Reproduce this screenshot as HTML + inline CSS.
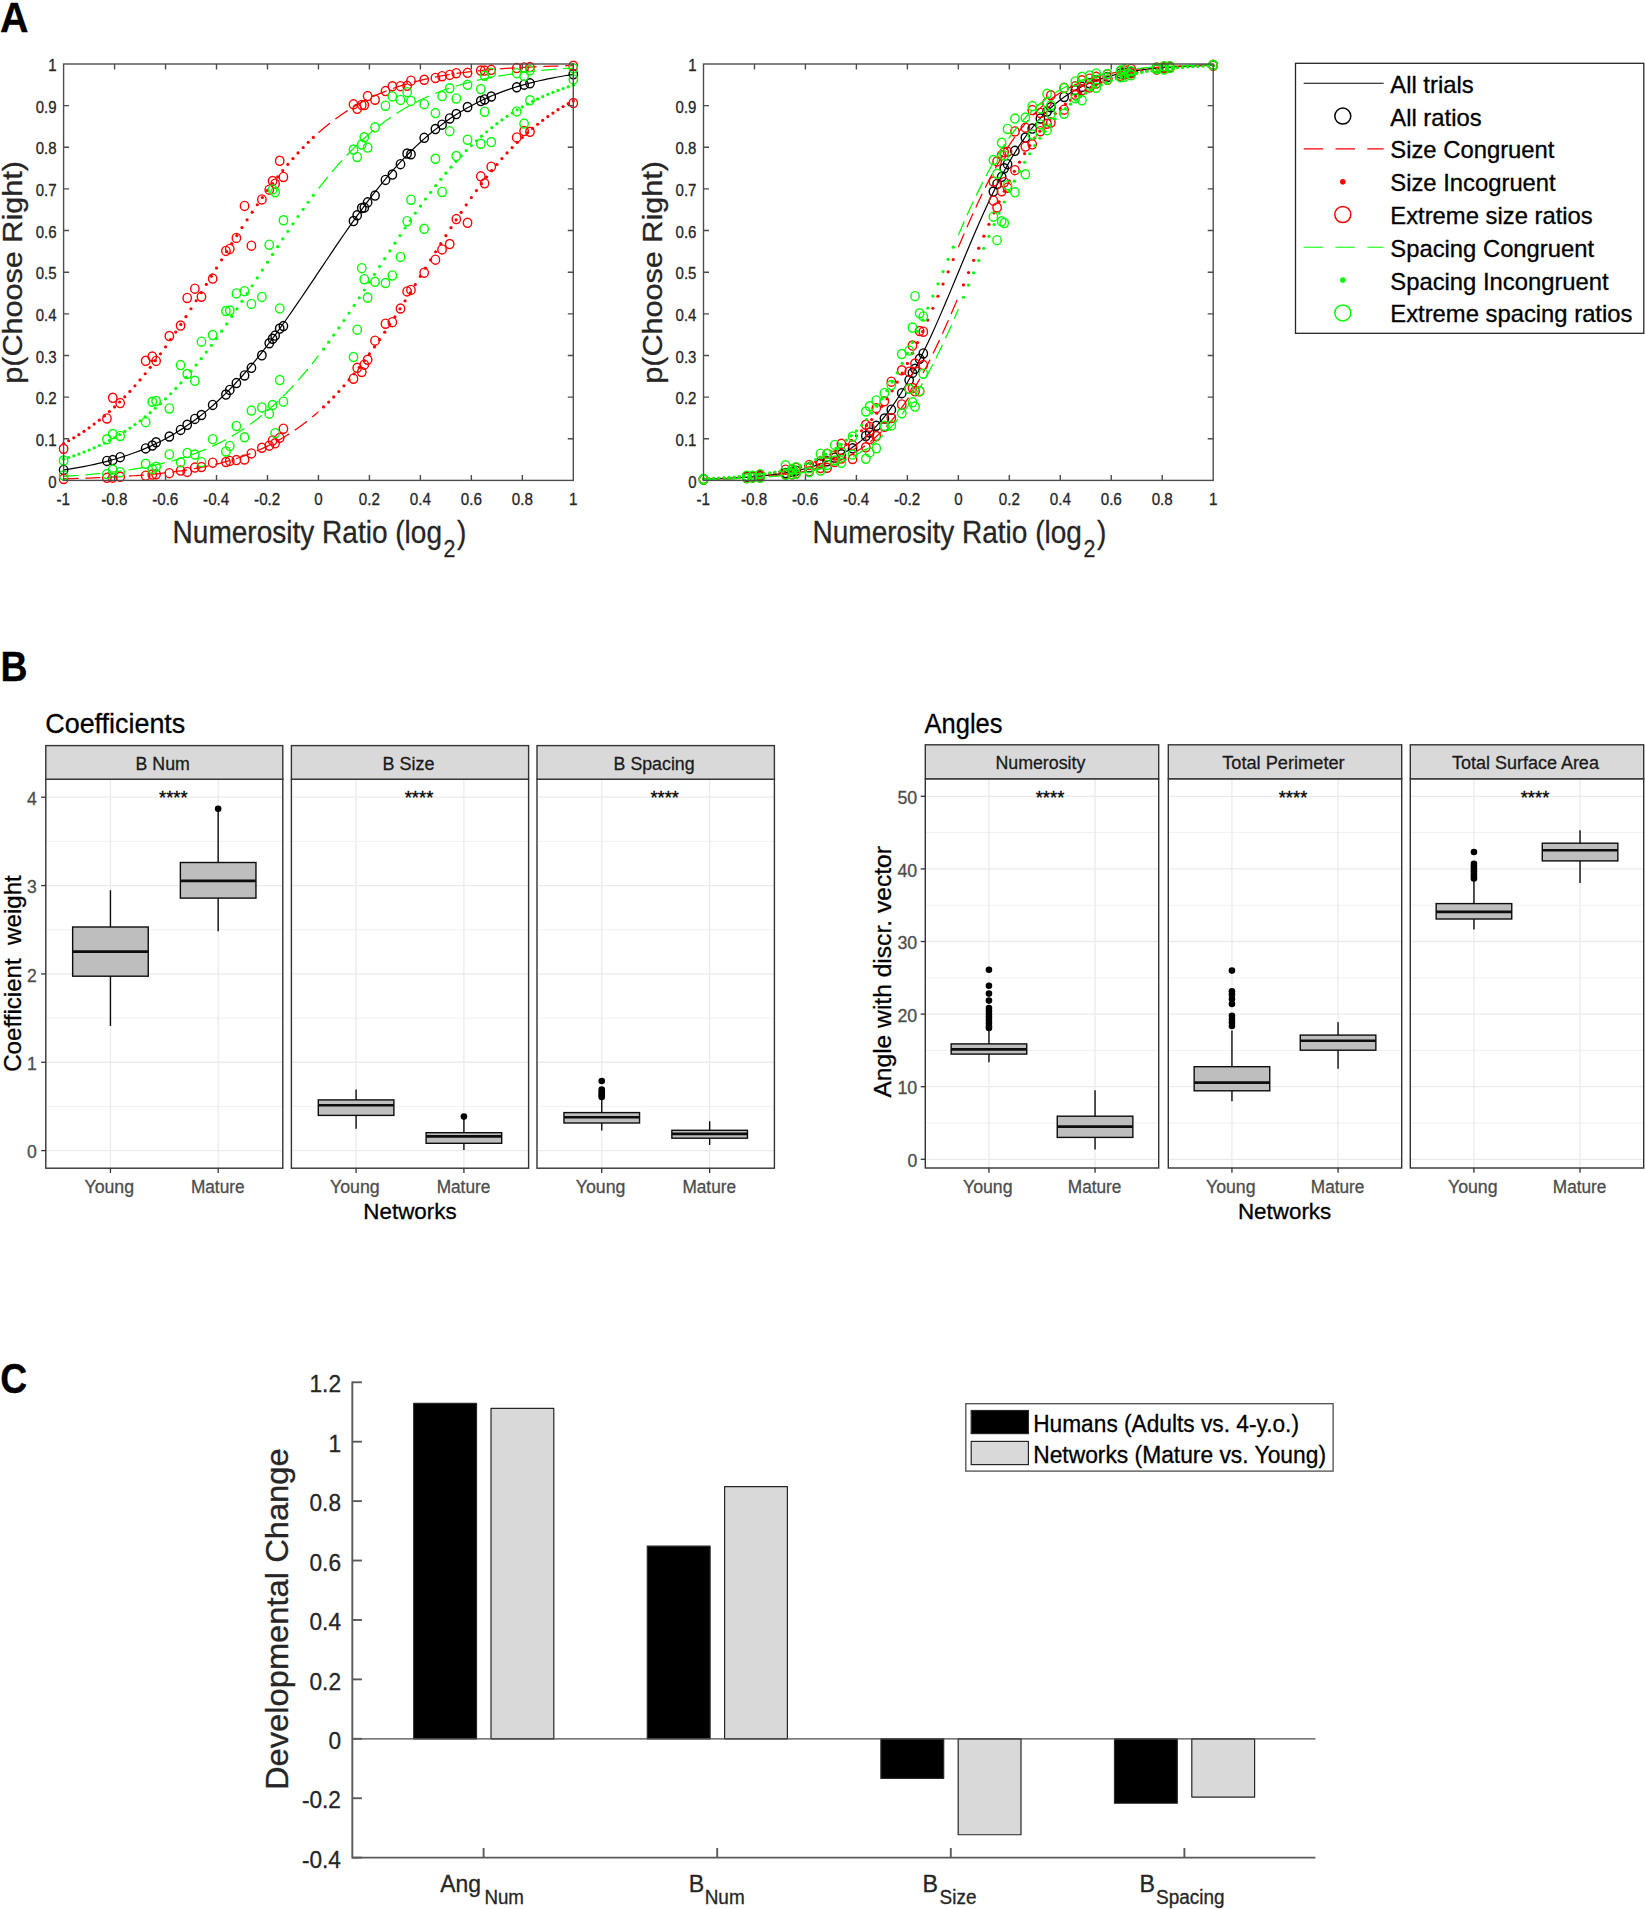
<!DOCTYPE html>
<html><head><meta charset="utf-8"><title>Figure</title>
<style>html,body{margin:0;padding:0;background:#fff}svg{display:block}text{font-family:"Liberation Sans",Arial,sans-serif;stroke-width:.3px}</style>
</head><body>
<svg width="1645" height="1909" viewBox="0 0 1645 1909">
<rect width="1645" height="1909" fill="#fff"/>
<text x="0" y="31.6" font-size="42.02" fill="#000" stroke="#000" textLength="28.5" lengthAdjust="spacingAndGlyphs" font-weight="bold">A</text>
<path d="M63.6,469.95 L67.85,469.31 L72.09,468.64 L76.34,467.92 L80.59,467.16 L84.84,466.35 L89.08,465.5 L93.33,464.6 L97.58,463.65 L101.83,462.64 L106.07,461.57 L110.32,460.44 L114.57,459.25 L118.82,457.99 L123.07,456.66 L127.31,455.26 L131.56,453.78 L135.81,452.22 L140.06,450.58 L144.3,448.84 L148.55,447.02 L152.8,445.09 L157.04,443.07 L161.29,440.95 L165.54,438.71 L169.79,436.37 L174.03,433.91 L178.28,431.33 L182.53,428.63 L186.78,425.8 L191.02,422.84 L195.27,419.74 L199.52,416.51 L203.77,413.15 L208.01,409.63 L212.26,405.98 L216.51,402.18 L220.76,398.23 L225,394.13 L229.25,389.88 L233.5,385.49 L237.75,380.94 L241.99,376.25 L246.24,371.42 L250.49,366.44 L254.74,361.32 L258.99,356.07 L263.23,350.68 L267.48,345.17 L271.73,339.54 L275.97,333.8 L280.22,327.96 L284.47,322.02 L288.72,315.99 L292.96,309.88 L297.21,303.71 L301.46,297.48 L305.71,291.2 L309.95,284.88 L314.2,278.55 L318.45,272.2 L322.7,265.85 L326.94,259.52 L331.19,253.2 L335.44,246.92 L339.69,240.69 L343.94,234.52 L348.18,228.41 L352.43,222.38 L356.68,216.44 L360.93,210.6 L365.17,204.86 L369.42,199.23 L373.67,193.72 L377.92,188.33 L382.16,183.08 L386.41,177.96 L390.66,172.98 L394.9,168.15 L399.15,163.46 L403.4,158.91 L407.65,154.52 L411.89,150.27 L416.14,146.17 L420.39,142.22 L424.64,138.42 L428.88,134.77 L433.13,131.25 L437.38,127.89 L441.63,124.66 L445.88,121.56 L450.12,118.6 L454.37,115.77 L458.62,113.07 L462.86,110.49 L467.11,108.03 L471.36,105.69 L475.61,103.45 L479.85,101.33 L484.1,99.31 L488.35,97.38 L492.6,95.56 L496.84,93.82 L501.09,92.18 L505.34,90.62 L509.59,89.14 L513.83,87.74 L518.08,86.41 L522.33,85.15 L526.58,83.96 L530.82,82.83 L535.07,81.76 L539.32,80.75 L543.57,79.8 L547.81,78.9 L552.06,78.05 L556.31,77.24 L560.56,76.48 L564.8,75.76 L569.05,75.09 L573.3,74.45" stroke="#000" stroke-width="1.2" fill="none"/>
<g fill="none" stroke="#000" stroke-width="1.4">
<ellipse cx="63.6" cy="469.93" rx="4.2" ry="4.55"/>
<ellipse cx="106.92" cy="460.89" rx="4.2" ry="4.55"/>
<ellipse cx="112.79" cy="460.12" rx="4.2" ry="4.55"/>
<ellipse cx="120.18" cy="457.14" rx="4.2" ry="4.55"/>
<ellipse cx="145.66" cy="448.42" rx="4.2" ry="4.55"/>
<ellipse cx="152.29" cy="445.5" rx="4.2" ry="4.55"/>
<ellipse cx="156.11" cy="442.23" rx="4.2" ry="4.55"/>
<ellipse cx="169.36" cy="436.49" rx="4.2" ry="4.55"/>
<ellipse cx="180.58" cy="429.92" rx="4.2" ry="4.55"/>
<ellipse cx="187.2" cy="424.81" rx="4.2" ry="4.55"/>
<ellipse cx="194.85" cy="418.89" rx="4.2" ry="4.55"/>
<ellipse cx="201.47" cy="415.02" rx="4.2" ry="4.55"/>
<ellipse cx="212.69" cy="404.88" rx="4.2" ry="4.55"/>
<ellipse cx="225.94" cy="394.54" rx="4.2" ry="4.55"/>
<ellipse cx="229.76" cy="389.88" rx="4.2" ry="4.55"/>
<ellipse cx="236.39" cy="383.07" rx="4.2" ry="4.55"/>
<ellipse cx="244.54" cy="375.47" rx="4.2" ry="4.55"/>
<ellipse cx="251.42" cy="367.82" rx="4.2" ry="4.55"/>
<ellipse cx="261.87" cy="355.28" rx="4.2" ry="4.55"/>
<ellipse cx="269.26" cy="343.26" rx="4.2" ry="4.55"/>
<ellipse cx="272.58" cy="338.73" rx="4.2" ry="4.55"/>
<ellipse cx="275.13" cy="335.57" rx="4.2" ry="4.55"/>
<ellipse cx="279.71" cy="328.53" rx="4.2" ry="4.55"/>
<ellipse cx="283.41" cy="326.11" rx="4.2" ry="4.55"/>
<ellipse cx="353.49" cy="221.05" rx="4.2" ry="4.55"/>
<ellipse cx="357.19" cy="215.28" rx="4.2" ry="4.55"/>
<ellipse cx="361.77" cy="208.02" rx="4.2" ry="4.55"/>
<ellipse cx="364.32" cy="207.58" rx="4.2" ry="4.55"/>
<ellipse cx="367.64" cy="202.32" rx="4.2" ry="4.55"/>
<ellipse cx="375.03" cy="195.58" rx="4.2" ry="4.55"/>
<ellipse cx="385.48" cy="179.92" rx="4.2" ry="4.55"/>
<ellipse cx="392.36" cy="174.56" rx="4.2" ry="4.55"/>
<ellipse cx="400.51" cy="164.13" rx="4.2" ry="4.55"/>
<ellipse cx="407.14" cy="153.48" rx="4.2" ry="4.55"/>
<ellipse cx="410.96" cy="154.27" rx="4.2" ry="4.55"/>
<ellipse cx="424.21" cy="137.82" rx="4.2" ry="4.55"/>
<ellipse cx="435.43" cy="129.06" rx="4.2" ry="4.55"/>
<ellipse cx="442.05" cy="124.66" rx="4.2" ry="4.55"/>
<ellipse cx="449.7" cy="118.46" rx="4.2" ry="4.55"/>
<ellipse cx="456.32" cy="114.05" rx="4.2" ry="4.55"/>
<ellipse cx="467.54" cy="106.98" rx="4.2" ry="4.55"/>
<ellipse cx="480.79" cy="101.03" rx="4.2" ry="4.55"/>
<ellipse cx="484.61" cy="99.45" rx="4.2" ry="4.55"/>
<ellipse cx="491.24" cy="96.49" rx="4.2" ry="4.55"/>
<ellipse cx="516.72" cy="87.25" rx="4.2" ry="4.55"/>
<ellipse cx="524.11" cy="84.66" rx="4.2" ry="4.55"/>
<ellipse cx="529.98" cy="83.34" rx="4.2" ry="4.55"/>
<ellipse cx="573.3" cy="74.23" rx="4.2" ry="4.55"/>
</g>
<path d="M63.6,478.82 L66.79,478.74 L69.97,478.66 L73.16,478.57 L76.34,478.48 L79.53,478.38 L82.71,478.28 L85.9,478.17 L89.08,478.06 L92.27,477.94 L95.46,477.82 L98.64,477.69 L101.83,477.55 L105.01,477.41 L108.2,477.26 L111.38,477.1 L114.57,476.93 L117.76,476.76 L120.94,476.58 L124.13,476.38 L127.31,476.18 L130.5,475.97 L133.68,475.75 L136.87,475.52 L140.06,475.27 L143.24,475.02 L146.43,474.75 L149.61,474.47 L152.8,474.17 L155.98,473.86 L159.17,473.54 L162.35,473.19 L165.54,472.84 L168.73,472.46 L171.91,472.07 L175.1,471.65 L178.28,471.22 L181.47,470.77 L184.65,470.29 L187.84,469.79 L191.02,469.27 L194.21,468.72 L197.4,468.15 L200.58,467.55 L203.77,466.92 L206.95,466.26 L210.14,465.57 L213.32,464.85 L216.51,464.09 L219.7,463.3 L222.88,462.47 L226.07,461.61 L229.25,460.7 L232.44,459.75 L235.62,458.76 L238.81,457.72 L241.99,456.64 L245.18,455.51 L248.37,454.33 L251.55,453.1 L254.74,451.81 L257.92,450.47 L261.11,449.07 L264.29,447.61 L267.48,446.08 L270.67,444.5 L273.85,442.84 L277.04,441.12 L280.22,439.33 L283.41,437.46 L286.59,435.53 L289.78,433.51 L292.96,431.42 L296.15,429.24 L299.34,426.98 L302.52,424.64 L305.71,422.21 L308.89,419.7 L312.08,417.09 L315.26,414.4 L318.45,411.61" stroke="#ff0000" stroke-width="1.25" stroke-dasharray="15 6.8" fill="none"/>
<path d="M318.45,132.79 L321.64,130 L324.82,127.31 L328.01,124.7 L331.19,122.19 L334.38,119.76 L337.56,117.42 L340.75,115.16 L343.94,112.98 L347.12,110.89 L350.31,108.87 L353.49,106.94 L356.68,105.07 L359.86,103.28 L363.05,101.56 L366.23,99.9 L369.42,98.32 L372.61,96.79 L375.79,95.33 L378.98,93.93 L382.16,92.59 L385.35,91.3 L388.53,90.07 L391.72,88.89 L394.9,87.76 L398.09,86.68 L401.28,85.64 L404.46,84.65 L407.65,83.7 L410.83,82.79 L414.02,81.93 L417.2,81.1 L420.39,80.31 L423.58,79.55 L426.76,78.83 L429.95,78.14 L433.13,77.48 L436.32,76.85 L439.5,76.25 L442.69,75.68 L445.88,75.13 L449.06,74.61 L452.25,74.11 L455.43,73.63 L458.62,73.18 L461.8,72.75 L464.99,72.33 L468.17,71.94 L471.36,71.56 L474.55,71.21 L477.73,70.86 L480.92,70.54 L484.1,70.23 L487.29,69.93 L490.47,69.65 L493.66,69.38 L496.84,69.13 L500.03,68.88 L503.22,68.65 L506.4,68.43 L509.59,68.22 L512.77,68.02 L515.96,67.82 L519.14,67.64 L522.33,67.47 L525.52,67.3 L528.7,67.14 L531.89,66.99 L535.07,66.85 L538.26,66.71 L541.44,66.58 L544.63,66.46 L547.81,66.34 L551,66.23 L554.19,66.12 L557.37,66.02 L560.56,65.92 L563.74,65.83 L566.93,65.74 L570.11,65.66 L573.3,65.58" stroke="#ff0000" stroke-width="1.25" stroke-dasharray="15 6.8" fill="none"/>
<g fill="#ff0000">
<circle cx="63.6" cy="443.48" r="1.6"/>
<circle cx="323.55" cy="406.95" r="1.6"/>
<circle cx="68.7" cy="440.73" r="1.6"/>
<circle cx="328.64" cy="402.05" r="1.6"/>
<circle cx="73.79" cy="437.81" r="1.6"/>
<circle cx="333.74" cy="396.9" r="1.6"/>
<circle cx="78.89" cy="434.69" r="1.6"/>
<circle cx="338.84" cy="391.5" r="1.6"/>
<circle cx="83.99" cy="431.37" r="1.6"/>
<circle cx="343.94" cy="385.85" r="1.6"/>
<circle cx="89.08" cy="427.85" r="1.6"/>
<circle cx="349.03" cy="379.96" r="1.6"/>
<circle cx="94.18" cy="424.12" r="1.6"/>
<circle cx="354.13" cy="373.81" r="1.6"/>
<circle cx="99.28" cy="420.16" r="1.6"/>
<circle cx="359.23" cy="367.43" r="1.6"/>
<circle cx="104.38" cy="415.97" r="1.6"/>
<circle cx="364.32" cy="360.81" r="1.6"/>
<circle cx="109.47" cy="411.55" r="1.6"/>
<circle cx="369.42" cy="353.96" r="1.6"/>
<circle cx="114.57" cy="406.89" r="1.6"/>
<circle cx="374.52" cy="346.9" r="1.6"/>
<circle cx="119.67" cy="401.99" r="1.6"/>
<circle cx="379.61" cy="339.64" r="1.6"/>
<circle cx="124.76" cy="396.83" r="1.6"/>
<circle cx="384.71" cy="332.18" r="1.6"/>
<circle cx="129.86" cy="391.43" r="1.6"/>
<circle cx="389.81" cy="324.56" r="1.6"/>
<circle cx="134.96" cy="385.78" r="1.6"/>
<circle cx="394.9" cy="316.78" r="1.6"/>
<circle cx="140.06" cy="379.88" r="1.6"/>
<circle cx="400" cy="308.87" r="1.6"/>
<circle cx="145.15" cy="373.73" r="1.6"/>
<circle cx="405.1" cy="300.85" r="1.6"/>
<circle cx="150.25" cy="367.35" r="1.6"/>
<circle cx="410.2" cy="292.74" r="1.6"/>
<circle cx="155.35" cy="360.72" r="1.6"/>
<circle cx="415.29" cy="284.57" r="1.6"/>
<circle cx="160.44" cy="353.87" r="1.6"/>
<circle cx="420.39" cy="276.36" r="1.6"/>
<circle cx="165.54" cy="346.81" r="1.6"/>
<circle cx="425.49" cy="268.14" r="1.6"/>
<circle cx="170.64" cy="339.54" r="1.6"/>
<circle cx="430.58" cy="259.93" r="1.6"/>
<circle cx="175.73" cy="332.09" r="1.6"/>
<circle cx="435.68" cy="251.76" r="1.6"/>
<circle cx="180.83" cy="324.46" r="1.6"/>
<circle cx="440.78" cy="243.65" r="1.6"/>
<circle cx="185.93" cy="316.68" r="1.6"/>
<circle cx="445.88" cy="235.63" r="1.6"/>
<circle cx="191.02" cy="308.77" r="1.6"/>
<circle cx="450.97" cy="227.72" r="1.6"/>
<circle cx="196.12" cy="300.75" r="1.6"/>
<circle cx="456.07" cy="219.94" r="1.6"/>
<circle cx="201.22" cy="292.64" r="1.6"/>
<circle cx="461.17" cy="212.31" r="1.6"/>
<circle cx="206.32" cy="284.47" r="1.6"/>
<circle cx="466.26" cy="204.86" r="1.6"/>
<circle cx="211.41" cy="276.26" r="1.6"/>
<circle cx="471.36" cy="197.59" r="1.6"/>
<circle cx="216.51" cy="268.04" r="1.6"/>
<circle cx="476.46" cy="190.53" r="1.6"/>
<circle cx="221.61" cy="259.83" r="1.6"/>
<circle cx="481.55" cy="183.68" r="1.6"/>
<circle cx="226.7" cy="251.66" r="1.6"/>
<circle cx="486.65" cy="177.05" r="1.6"/>
<circle cx="231.8" cy="243.55" r="1.6"/>
<circle cx="491.75" cy="170.67" r="1.6"/>
<circle cx="236.9" cy="235.53" r="1.6"/>
<circle cx="496.85" cy="164.52" r="1.6"/>
<circle cx="241.99" cy="227.62" r="1.6"/>
<circle cx="501.94" cy="158.62" r="1.6"/>
<circle cx="247.09" cy="219.84" r="1.6"/>
<circle cx="507.04" cy="152.97" r="1.6"/>
<circle cx="252.19" cy="212.22" r="1.6"/>
<circle cx="512.14" cy="147.57" r="1.6"/>
<circle cx="257.29" cy="204.76" r="1.6"/>
<circle cx="517.23" cy="142.41" r="1.6"/>
<circle cx="262.38" cy="197.5" r="1.6"/>
<circle cx="522.33" cy="137.51" r="1.6"/>
<circle cx="267.48" cy="190.44" r="1.6"/>
<circle cx="527.43" cy="132.85" r="1.6"/>
<circle cx="272.58" cy="183.59" r="1.6"/>
<circle cx="532.52" cy="128.43" r="1.6"/>
<circle cx="277.67" cy="176.97" r="1.6"/>
<circle cx="537.62" cy="124.24" r="1.6"/>
<circle cx="282.77" cy="170.59" r="1.6"/>
<circle cx="542.72" cy="120.28" r="1.6"/>
<circle cx="287.87" cy="164.44" r="1.6"/>
<circle cx="547.81" cy="116.55" r="1.6"/>
<circle cx="292.96" cy="158.55" r="1.6"/>
<circle cx="552.91" cy="113.03" r="1.6"/>
<circle cx="298.06" cy="152.9" r="1.6"/>
<circle cx="558.01" cy="109.71" r="1.6"/>
<circle cx="303.16" cy="147.5" r="1.6"/>
<circle cx="563.11" cy="106.59" r="1.6"/>
<circle cx="308.26" cy="142.35" r="1.6"/>
<circle cx="568.2" cy="103.67" r="1.6"/>
<circle cx="313.35" cy="137.45" r="1.6"/>
<circle cx="573.3" cy="100.92" r="1.6"/>
</g>
<g fill="none" stroke="#ff0000" stroke-width="1.4">
<ellipse cx="63.6" cy="448.76" rx="4.2" ry="4.55"/>
<ellipse cx="63.6" cy="478.97" rx="4.2" ry="4.55"/>
<ellipse cx="106.92" cy="418.45" rx="4.2" ry="4.55"/>
<ellipse cx="106.92" cy="477.84" rx="4.2" ry="4.55"/>
<ellipse cx="112.79" cy="397.79" rx="4.2" ry="4.55"/>
<ellipse cx="112.79" cy="477.68" rx="4.2" ry="4.55"/>
<ellipse cx="120.18" cy="403.1" rx="4.2" ry="4.55"/>
<ellipse cx="120.18" cy="476.79" rx="4.2" ry="4.55"/>
<ellipse cx="145.66" cy="360.81" rx="4.2" ry="4.55"/>
<ellipse cx="145.66" cy="475.72" rx="4.2" ry="4.55"/>
<ellipse cx="152.29" cy="356.5" rx="4.2" ry="4.55"/>
<ellipse cx="152.29" cy="474.61" rx="4.2" ry="4.55"/>
<ellipse cx="156.11" cy="360.9" rx="4.2" ry="4.55"/>
<ellipse cx="156.11" cy="474.23" rx="4.2" ry="4.55"/>
<ellipse cx="169.36" cy="335.99" rx="4.2" ry="4.55"/>
<ellipse cx="169.36" cy="473.15" rx="4.2" ry="4.55"/>
<ellipse cx="180.58" cy="325.54" rx="4.2" ry="4.55"/>
<ellipse cx="180.58" cy="470.6" rx="4.2" ry="4.55"/>
<ellipse cx="187.2" cy="297.95" rx="4.2" ry="4.55"/>
<ellipse cx="187.2" cy="471.9" rx="4.2" ry="4.55"/>
<ellipse cx="194.85" cy="288.66" rx="4.2" ry="4.55"/>
<ellipse cx="194.85" cy="467.59" rx="4.2" ry="4.55"/>
<ellipse cx="201.47" cy="296.71" rx="4.2" ry="4.55"/>
<ellipse cx="201.47" cy="467.02" rx="4.2" ry="4.55"/>
<ellipse cx="212.69" cy="278.57" rx="4.2" ry="4.55"/>
<ellipse cx="212.69" cy="462.64" rx="4.2" ry="4.55"/>
<ellipse cx="225.94" cy="250.93" rx="4.2" ry="4.55"/>
<ellipse cx="225.94" cy="461.99" rx="4.2" ry="4.55"/>
<ellipse cx="229.76" cy="248.89" rx="4.2" ry="4.55"/>
<ellipse cx="229.76" cy="460.89" rx="4.2" ry="4.55"/>
<ellipse cx="236.39" cy="237.93" rx="4.2" ry="4.55"/>
<ellipse cx="236.39" cy="460.1" rx="4.2" ry="4.55"/>
<ellipse cx="244.54" cy="205.91" rx="4.2" ry="4.55"/>
<ellipse cx="244.54" cy="459.44" rx="4.2" ry="4.55"/>
<ellipse cx="251.42" cy="245.63" rx="4.2" ry="4.55"/>
<ellipse cx="251.42" cy="453.43" rx="4.2" ry="4.55"/>
<ellipse cx="261.87" cy="199.42" rx="4.2" ry="4.55"/>
<ellipse cx="261.87" cy="447.73" rx="4.2" ry="4.55"/>
<ellipse cx="269.26" cy="189.63" rx="4.2" ry="4.55"/>
<ellipse cx="269.26" cy="445.63" rx="4.2" ry="4.55"/>
<ellipse cx="272.58" cy="181.06" rx="4.2" ry="4.55"/>
<ellipse cx="272.58" cy="440.47" rx="4.2" ry="4.55"/>
<ellipse cx="275.13" cy="183.66" rx="4.2" ry="4.55"/>
<ellipse cx="275.13" cy="443.31" rx="4.2" ry="4.55"/>
<ellipse cx="279.71" cy="160.81" rx="4.2" ry="4.55"/>
<ellipse cx="279.71" cy="437.83" rx="4.2" ry="4.55"/>
<ellipse cx="283.41" cy="176.96" rx="4.2" ry="4.55"/>
<ellipse cx="283.41" cy="428.72" rx="4.2" ry="4.55"/>
<ellipse cx="353.49" cy="104.32" rx="4.2" ry="4.55"/>
<ellipse cx="353.49" cy="378.72" rx="4.2" ry="4.55"/>
<ellipse cx="357.19" cy="108.84" rx="4.2" ry="4.55"/>
<ellipse cx="357.19" cy="367.82" rx="4.2" ry="4.55"/>
<ellipse cx="361.77" cy="104.92" rx="4.2" ry="4.55"/>
<ellipse cx="361.77" cy="371.95" rx="4.2" ry="4.55"/>
<ellipse cx="364.32" cy="105" rx="4.2" ry="4.55"/>
<ellipse cx="364.32" cy="364.65" rx="4.2" ry="4.55"/>
<ellipse cx="367.64" cy="96.12" rx="4.2" ry="4.55"/>
<ellipse cx="367.64" cy="359.75" rx="4.2" ry="4.55"/>
<ellipse cx="375.03" cy="99.71" rx="4.2" ry="4.55"/>
<ellipse cx="375.03" cy="340.65" rx="4.2" ry="4.55"/>
<ellipse cx="385.48" cy="91.1" rx="4.2" ry="4.55"/>
<ellipse cx="385.48" cy="323.7" rx="4.2" ry="4.55"/>
<ellipse cx="392.36" cy="86.27" rx="4.2" ry="4.55"/>
<ellipse cx="392.36" cy="322.18" rx="4.2" ry="4.55"/>
<ellipse cx="400.51" cy="86.16" rx="4.2" ry="4.55"/>
<ellipse cx="400.51" cy="308.49" rx="4.2" ry="4.55"/>
<ellipse cx="407.14" cy="85.87" rx="4.2" ry="4.55"/>
<ellipse cx="407.14" cy="291.42" rx="4.2" ry="4.55"/>
<ellipse cx="410.96" cy="80.67" rx="4.2" ry="4.55"/>
<ellipse cx="410.96" cy="289.91" rx="4.2" ry="4.55"/>
<ellipse cx="424.21" cy="79.73" rx="4.2" ry="4.55"/>
<ellipse cx="424.21" cy="272.63" rx="4.2" ry="4.55"/>
<ellipse cx="435.43" cy="77.94" rx="4.2" ry="4.55"/>
<ellipse cx="435.43" cy="259.65" rx="4.2" ry="4.55"/>
<ellipse cx="442.05" cy="76.21" rx="4.2" ry="4.55"/>
<ellipse cx="442.05" cy="249.39" rx="4.2" ry="4.55"/>
<ellipse cx="449.7" cy="74.92" rx="4.2" ry="4.55"/>
<ellipse cx="449.7" cy="244.03" rx="4.2" ry="4.55"/>
<ellipse cx="456.32" cy="73.21" rx="4.2" ry="4.55"/>
<ellipse cx="456.32" cy="219.12" rx="4.2" ry="4.55"/>
<ellipse cx="467.54" cy="72.87" rx="4.2" ry="4.55"/>
<ellipse cx="467.54" cy="222.79" rx="4.2" ry="4.55"/>
<ellipse cx="480.79" cy="70.56" rx="4.2" ry="4.55"/>
<ellipse cx="480.79" cy="176.36" rx="4.2" ry="4.55"/>
<ellipse cx="484.61" cy="70.59" rx="4.2" ry="4.55"/>
<ellipse cx="484.61" cy="183.34" rx="4.2" ry="4.55"/>
<ellipse cx="491.24" cy="69.87" rx="4.2" ry="4.55"/>
<ellipse cx="491.24" cy="166.68" rx="4.2" ry="4.55"/>
<ellipse cx="516.72" cy="68.1" rx="4.2" ry="4.55"/>
<ellipse cx="516.72" cy="137.4" rx="4.2" ry="4.55"/>
<ellipse cx="524.11" cy="67.47" rx="4.2" ry="4.55"/>
<ellipse cx="524.11" cy="131.04" rx="4.2" ry="4.55"/>
<ellipse cx="529.98" cy="67.07" rx="4.2" ry="4.55"/>
<ellipse cx="529.98" cy="131.78" rx="4.2" ry="4.55"/>
<ellipse cx="573.3" cy="65.8" rx="4.2" ry="4.55"/>
<ellipse cx="573.3" cy="103.06" rx="4.2" ry="4.55"/>
</g>
<path d="M63.6,476.34 L66.79,476.14 L69.97,475.94 L73.16,475.73 L76.34,475.5 L79.53,475.27 L82.71,475.03 L85.9,474.77 L89.08,474.5 L92.27,474.22 L95.46,473.93 L98.64,473.62 L101.83,473.3 L105.01,472.96 L108.2,472.61 L111.38,472.24 L114.57,471.86 L117.76,471.46 L120.94,471.03 L124.13,470.59 L127.31,470.13 L130.5,469.65 L133.68,469.14 L136.87,468.62 L140.06,468.06 L143.24,467.49 L146.43,466.88 L149.61,466.25 L152.8,465.6 L155.98,464.91 L159.17,464.19 L162.35,463.44 L165.54,462.66 L168.73,461.84 L171.91,460.98 L175.1,460.09 L178.28,459.16 L181.47,458.19 L184.65,457.18 L187.84,456.12 L191.02,455.02 L194.21,453.88 L197.4,452.68 L200.58,451.44 L203.77,450.14 L206.95,448.79 L210.14,447.39 L213.32,445.93 L216.51,444.41 L219.7,442.83 L222.88,441.19 L226.07,439.48 L229.25,437.71 L232.44,435.87 L235.62,433.96 L238.81,431.98 L241.99,429.93 L245.18,427.8 L248.37,425.6 L251.55,423.31 L254.74,420.95 L257.92,418.51 L261.11,415.99 L264.29,413.38 L267.48,410.68 L270.67,407.91 L273.85,405.04 L277.04,402.09 L280.22,399.05 L283.41,395.92 L286.59,392.7 L289.78,389.39 L292.96,386 L296.15,382.51 L299.34,378.94 L302.52,375.28 L305.71,371.54 L308.89,367.71 L312.08,363.79 L315.26,359.79 L318.45,355.72" stroke="#00ff00" stroke-width="1.25" stroke-dasharray="15 6.8" fill="none"/>
<path d="M318.45,188.68 L321.64,184.61 L324.82,180.61 L328.01,176.69 L331.19,172.86 L334.38,169.12 L337.56,165.46 L340.75,161.89 L343.94,158.4 L347.12,155.01 L350.31,151.7 L353.49,148.48 L356.68,145.35 L359.86,142.31 L363.05,139.36 L366.23,136.49 L369.42,133.72 L372.61,131.02 L375.79,128.41 L378.98,125.89 L382.16,123.45 L385.35,121.09 L388.53,118.8 L391.72,116.6 L394.9,114.47 L398.09,112.42 L401.28,110.44 L404.46,108.53 L407.65,106.69 L410.83,104.92 L414.02,103.21 L417.2,101.57 L420.39,99.99 L423.58,98.47 L426.76,97.01 L429.95,95.61 L433.13,94.26 L436.32,92.96 L439.5,91.72 L442.69,90.52 L445.88,89.38 L449.06,88.28 L452.25,87.22 L455.43,86.21 L458.62,85.24 L461.8,84.31 L464.99,83.42 L468.17,82.56 L471.36,81.74 L474.55,80.96 L477.73,80.21 L480.92,79.49 L484.1,78.8 L487.29,78.15 L490.47,77.52 L493.66,76.91 L496.84,76.34 L500.03,75.78 L503.22,75.26 L506.4,74.75 L509.59,74.27 L512.77,73.81 L515.96,73.37 L519.14,72.94 L522.33,72.54 L525.52,72.16 L528.7,71.79 L531.89,71.44 L535.07,71.1 L538.26,70.78 L541.44,70.47 L544.63,70.18 L547.81,69.9 L551,69.63 L554.19,69.37 L557.37,69.13 L560.56,68.9 L563.74,68.67 L566.93,68.46 L570.11,68.26 L573.3,68.06" stroke="#00ff00" stroke-width="1.25" stroke-dasharray="15 6.8" fill="none"/>
<g fill="#00ff00">
<circle cx="63.6" cy="459.09" r="1.6"/>
<circle cx="323.55" cy="349.03" r="1.6"/>
<circle cx="68.7" cy="457.51" r="1.6"/>
<circle cx="328.64" cy="342.16" r="1.6"/>
<circle cx="73.79" cy="455.83" r="1.6"/>
<circle cx="333.74" cy="335.11" r="1.6"/>
<circle cx="78.89" cy="454.03" r="1.6"/>
<circle cx="338.84" cy="327.9" r="1.6"/>
<circle cx="83.99" cy="452.1" r="1.6"/>
<circle cx="343.94" cy="320.54" r="1.6"/>
<circle cx="89.08" cy="450.05" r="1.6"/>
<circle cx="349.03" cy="313.05" r="1.6"/>
<circle cx="94.18" cy="447.85" r="1.6"/>
<circle cx="354.13" cy="305.45" r="1.6"/>
<circle cx="99.28" cy="445.52" r="1.6"/>
<circle cx="359.23" cy="297.76" r="1.6"/>
<circle cx="104.38" cy="443.03" r="1.6"/>
<circle cx="364.32" cy="290" r="1.6"/>
<circle cx="109.47" cy="440.39" r="1.6"/>
<circle cx="369.42" cy="282.19" r="1.6"/>
<circle cx="114.57" cy="437.58" r="1.6"/>
<circle cx="374.52" cy="274.34" r="1.6"/>
<circle cx="119.67" cy="434.59" r="1.6"/>
<circle cx="379.61" cy="266.5" r="1.6"/>
<circle cx="124.76" cy="431.42" r="1.6"/>
<circle cx="384.71" cy="258.67" r="1.6"/>
<circle cx="129.86" cy="428.07" r="1.6"/>
<circle cx="389.81" cy="250.87" r="1.6"/>
<circle cx="134.96" cy="424.52" r="1.6"/>
<circle cx="394.9" cy="243.14" r="1.6"/>
<circle cx="140.06" cy="420.77" r="1.6"/>
<circle cx="400" cy="235.49" r="1.6"/>
<circle cx="145.15" cy="416.82" r="1.6"/>
<circle cx="405.1" cy="227.94" r="1.6"/>
<circle cx="150.25" cy="412.65" r="1.6"/>
<circle cx="410.2" cy="220.5" r="1.6"/>
<circle cx="155.35" cy="408.26" r="1.6"/>
<circle cx="415.29" cy="213.21" r="1.6"/>
<circle cx="160.44" cy="403.65" r="1.6"/>
<circle cx="420.39" cy="206.07" r="1.6"/>
<circle cx="165.54" cy="398.82" r="1.6"/>
<circle cx="425.49" cy="199.1" r="1.6"/>
<circle cx="170.64" cy="393.76" r="1.6"/>
<circle cx="430.58" cy="192.31" r="1.6"/>
<circle cx="175.73" cy="388.47" r="1.6"/>
<circle cx="435.68" cy="185.72" r="1.6"/>
<circle cx="180.83" cy="382.96" r="1.6"/>
<circle cx="440.78" cy="179.33" r="1.6"/>
<circle cx="185.93" cy="377.22" r="1.6"/>
<circle cx="445.88" cy="173.15" r="1.6"/>
<circle cx="191.02" cy="371.25" r="1.6"/>
<circle cx="450.97" cy="167.18" r="1.6"/>
<circle cx="196.12" cy="365.07" r="1.6"/>
<circle cx="456.07" cy="161.44" r="1.6"/>
<circle cx="201.22" cy="358.68" r="1.6"/>
<circle cx="461.17" cy="155.93" r="1.6"/>
<circle cx="206.32" cy="352.09" r="1.6"/>
<circle cx="466.26" cy="150.64" r="1.6"/>
<circle cx="211.41" cy="345.3" r="1.6"/>
<circle cx="471.36" cy="145.58" r="1.6"/>
<circle cx="216.51" cy="338.33" r="1.6"/>
<circle cx="476.46" cy="140.75" r="1.6"/>
<circle cx="221.61" cy="331.19" r="1.6"/>
<circle cx="481.55" cy="136.14" r="1.6"/>
<circle cx="226.7" cy="323.9" r="1.6"/>
<circle cx="486.65" cy="131.75" r="1.6"/>
<circle cx="231.8" cy="316.46" r="1.6"/>
<circle cx="491.75" cy="127.58" r="1.6"/>
<circle cx="236.9" cy="308.91" r="1.6"/>
<circle cx="496.85" cy="123.63" r="1.6"/>
<circle cx="241.99" cy="301.26" r="1.6"/>
<circle cx="501.94" cy="119.88" r="1.6"/>
<circle cx="247.09" cy="293.53" r="1.6"/>
<circle cx="507.04" cy="116.33" r="1.6"/>
<circle cx="252.19" cy="285.73" r="1.6"/>
<circle cx="512.14" cy="112.98" r="1.6"/>
<circle cx="257.29" cy="277.9" r="1.6"/>
<circle cx="517.23" cy="109.81" r="1.6"/>
<circle cx="262.38" cy="270.06" r="1.6"/>
<circle cx="522.33" cy="106.82" r="1.6"/>
<circle cx="267.48" cy="262.21" r="1.6"/>
<circle cx="527.43" cy="104.01" r="1.6"/>
<circle cx="272.58" cy="254.4" r="1.6"/>
<circle cx="532.52" cy="101.37" r="1.6"/>
<circle cx="277.67" cy="246.64" r="1.6"/>
<circle cx="537.62" cy="98.88" r="1.6"/>
<circle cx="282.77" cy="238.95" r="1.6"/>
<circle cx="542.72" cy="96.55" r="1.6"/>
<circle cx="287.87" cy="231.35" r="1.6"/>
<circle cx="547.81" cy="94.35" r="1.6"/>
<circle cx="292.96" cy="223.86" r="1.6"/>
<circle cx="552.91" cy="92.3" r="1.6"/>
<circle cx="298.06" cy="216.5" r="1.6"/>
<circle cx="558.01" cy="90.37" r="1.6"/>
<circle cx="303.16" cy="209.29" r="1.6"/>
<circle cx="563.11" cy="88.57" r="1.6"/>
<circle cx="308.26" cy="202.24" r="1.6"/>
<circle cx="568.2" cy="86.89" r="1.6"/>
<circle cx="313.35" cy="195.37" r="1.6"/>
<circle cx="573.3" cy="85.31" r="1.6"/>
</g>
<g fill="none" stroke="#00ff00" stroke-width="1.4">
<ellipse cx="63.6" cy="460.52" rx="4.2" ry="4.55"/>
<ellipse cx="63.6" cy="475.52" rx="4.2" ry="4.55"/>
<ellipse cx="106.92" cy="439.26" rx="4.2" ry="4.55"/>
<ellipse cx="106.92" cy="474.09" rx="4.2" ry="4.55"/>
<ellipse cx="112.79" cy="434.06" rx="4.2" ry="4.55"/>
<ellipse cx="112.79" cy="469.5" rx="4.2" ry="4.55"/>
<ellipse cx="120.18" cy="435.96" rx="4.2" ry="4.55"/>
<ellipse cx="120.18" cy="472.19" rx="4.2" ry="4.55"/>
<ellipse cx="145.66" cy="422.16" rx="4.2" ry="4.55"/>
<ellipse cx="145.66" cy="463.76" rx="4.2" ry="4.55"/>
<ellipse cx="152.29" cy="401.75" rx="4.2" ry="4.55"/>
<ellipse cx="152.29" cy="468.98" rx="4.2" ry="4.55"/>
<ellipse cx="156.11" cy="401.06" rx="4.2" ry="4.55"/>
<ellipse cx="156.11" cy="466.77" rx="4.2" ry="4.55"/>
<ellipse cx="169.36" cy="408.44" rx="4.2" ry="4.55"/>
<ellipse cx="169.36" cy="454.38" rx="4.2" ry="4.55"/>
<ellipse cx="180.58" cy="365.08" rx="4.2" ry="4.55"/>
<ellipse cx="180.58" cy="462.32" rx="4.2" ry="4.55"/>
<ellipse cx="187.2" cy="374" rx="4.2" ry="4.55"/>
<ellipse cx="187.2" cy="452.95" rx="4.2" ry="4.55"/>
<ellipse cx="194.85" cy="380.83" rx="4.2" ry="4.55"/>
<ellipse cx="194.85" cy="454.48" rx="4.2" ry="4.55"/>
<ellipse cx="201.47" cy="341.65" rx="4.2" ry="4.55"/>
<ellipse cx="201.47" cy="462.13" rx="4.2" ry="4.55"/>
<ellipse cx="212.69" cy="335.02" rx="4.2" ry="4.55"/>
<ellipse cx="212.69" cy="439.15" rx="4.2" ry="4.55"/>
<ellipse cx="225.94" cy="311.02" rx="4.2" ry="4.55"/>
<ellipse cx="225.94" cy="451.45" rx="4.2" ry="4.55"/>
<ellipse cx="229.76" cy="310.56" rx="4.2" ry="4.55"/>
<ellipse cx="229.76" cy="445.89" rx="4.2" ry="4.55"/>
<ellipse cx="236.39" cy="293.4" rx="4.2" ry="4.55"/>
<ellipse cx="236.39" cy="425.97" rx="4.2" ry="4.55"/>
<ellipse cx="244.54" cy="291.17" rx="4.2" ry="4.55"/>
<ellipse cx="244.54" cy="437.25" rx="4.2" ry="4.55"/>
<ellipse cx="251.42" cy="303.91" rx="4.2" ry="4.55"/>
<ellipse cx="251.42" cy="410.59" rx="4.2" ry="4.55"/>
<ellipse cx="261.87" cy="296.92" rx="4.2" ry="4.55"/>
<ellipse cx="261.87" cy="407.38" rx="4.2" ry="4.55"/>
<ellipse cx="269.26" cy="244.71" rx="4.2" ry="4.55"/>
<ellipse cx="269.26" cy="413.63" rx="4.2" ry="4.55"/>
<ellipse cx="272.58" cy="189.39" rx="4.2" ry="4.55"/>
<ellipse cx="272.58" cy="404.99" rx="4.2" ry="4.55"/>
<ellipse cx="275.13" cy="192.2" rx="4.2" ry="4.55"/>
<ellipse cx="275.13" cy="433.14" rx="4.2" ry="4.55"/>
<ellipse cx="279.71" cy="308.4" rx="4.2" ry="4.55"/>
<ellipse cx="279.71" cy="380.12" rx="4.2" ry="4.55"/>
<ellipse cx="283.41" cy="220.25" rx="4.2" ry="4.55"/>
<ellipse cx="283.41" cy="401.66" rx="4.2" ry="4.55"/>
<ellipse cx="353.49" cy="149.49" rx="4.2" ry="4.55"/>
<ellipse cx="353.49" cy="356.98" rx="4.2" ry="4.55"/>
<ellipse cx="357.19" cy="156.95" rx="4.2" ry="4.55"/>
<ellipse cx="357.19" cy="329.63" rx="4.2" ry="4.55"/>
<ellipse cx="361.77" cy="144.48" rx="4.2" ry="4.55"/>
<ellipse cx="361.77" cy="268.14" rx="4.2" ry="4.55"/>
<ellipse cx="364.32" cy="137.3" rx="4.2" ry="4.55"/>
<ellipse cx="364.32" cy="279.2" rx="4.2" ry="4.55"/>
<ellipse cx="367.64" cy="147.56" rx="4.2" ry="4.55"/>
<ellipse cx="367.64" cy="297.49" rx="4.2" ry="4.55"/>
<ellipse cx="375.03" cy="127.33" rx="4.2" ry="4.55"/>
<ellipse cx="375.03" cy="281.78" rx="4.2" ry="4.55"/>
<ellipse cx="385.48" cy="105.7" rx="4.2" ry="4.55"/>
<ellipse cx="385.48" cy="282.99" rx="4.2" ry="4.55"/>
<ellipse cx="392.36" cy="96.39" rx="4.2" ry="4.55"/>
<ellipse cx="392.36" cy="275.46" rx="4.2" ry="4.55"/>
<ellipse cx="400.51" cy="99.9" rx="4.2" ry="4.55"/>
<ellipse cx="400.51" cy="256.88" rx="4.2" ry="4.55"/>
<ellipse cx="407.14" cy="92.17" rx="4.2" ry="4.55"/>
<ellipse cx="407.14" cy="221.19" rx="4.2" ry="4.55"/>
<ellipse cx="410.96" cy="100.92" rx="4.2" ry="4.55"/>
<ellipse cx="410.96" cy="199.69" rx="4.2" ry="4.55"/>
<ellipse cx="424.21" cy="104.18" rx="4.2" ry="4.55"/>
<ellipse cx="424.21" cy="228.83" rx="4.2" ry="4.55"/>
<ellipse cx="435.43" cy="113.07" rx="4.2" ry="4.55"/>
<ellipse cx="435.43" cy="158.76" rx="4.2" ry="4.55"/>
<ellipse cx="442.05" cy="96.07" rx="4.2" ry="4.55"/>
<ellipse cx="442.05" cy="191.97" rx="4.2" ry="4.55"/>
<ellipse cx="449.7" cy="88.26" rx="4.2" ry="4.55"/>
<ellipse cx="449.7" cy="131.18" rx="4.2" ry="4.55"/>
<ellipse cx="456.32" cy="98.46" rx="4.2" ry="4.55"/>
<ellipse cx="456.32" cy="156.06" rx="4.2" ry="4.55"/>
<ellipse cx="467.54" cy="84.82" rx="4.2" ry="4.55"/>
<ellipse cx="467.54" cy="139.69" rx="4.2" ry="4.55"/>
<ellipse cx="480.79" cy="89.07" rx="4.2" ry="4.55"/>
<ellipse cx="480.79" cy="143.75" rx="4.2" ry="4.55"/>
<ellipse cx="484.61" cy="75.7" rx="4.2" ry="4.55"/>
<ellipse cx="484.61" cy="111.72" rx="4.2" ry="4.55"/>
<ellipse cx="491.24" cy="72.65" rx="4.2" ry="4.55"/>
<ellipse cx="491.24" cy="142.05" rx="4.2" ry="4.55"/>
<ellipse cx="516.72" cy="73.13" rx="4.2" ry="4.55"/>
<ellipse cx="516.72" cy="111.4" rx="4.2" ry="4.55"/>
<ellipse cx="524.11" cy="76.12" rx="4.2" ry="4.55"/>
<ellipse cx="524.11" cy="123.62" rx="4.2" ry="4.55"/>
<ellipse cx="529.98" cy="70.21" rx="4.2" ry="4.55"/>
<ellipse cx="529.98" cy="100.32" rx="4.2" ry="4.55"/>
<ellipse cx="573.3" cy="68.23" rx="4.2" ry="4.55"/>
<ellipse cx="573.3" cy="79.39" rx="4.2" ry="4.55"/>
</g>
<rect x="63.6" y="64" width="509.7" height="416.4" fill="none" stroke="#4d4d4d" stroke-width="1.4"/>
<g stroke="#4d4d4d" stroke-width="1.4">
<path d="M114.57 480.4v-5.5M114.57 64v5.5"/>
<path d="M165.54 480.4v-5.5M165.54 64v5.5"/>
<path d="M216.51 480.4v-5.5M216.51 64v5.5"/>
<path d="M267.48 480.4v-5.5M267.48 64v5.5"/>
<path d="M318.45 480.4v-5.5M318.45 64v5.5"/>
<path d="M369.42 480.4v-5.5M369.42 64v5.5"/>
<path d="M420.39 480.4v-5.5M420.39 64v5.5"/>
<path d="M471.36 480.4v-5.5M471.36 64v5.5"/>
<path d="M522.33 480.4v-5.5M522.33 64v5.5"/>
<path d="M63.6 438.76h5.5M573.3 438.76h-5.5"/>
<path d="M63.6 397.12h5.5M573.3 397.12h-5.5"/>
<path d="M63.6 355.48h5.5M573.3 355.48h-5.5"/>
<path d="M63.6 313.84h5.5M573.3 313.84h-5.5"/>
<path d="M63.6 272.2h5.5M573.3 272.2h-5.5"/>
<path d="M63.6 230.56h5.5M573.3 230.56h-5.5"/>
<path d="M63.6 188.92h5.5M573.3 188.92h-5.5"/>
<path d="M63.6 147.28h5.5M573.3 147.28h-5.5"/>
<path d="M63.6 105.64h5.5M573.3 105.64h-5.5"/>
</g>
<text x="63.3" y="504.8" font-size="16.64" fill="#262626" stroke="#262626" textLength="13.52" lengthAdjust="spacingAndGlyphs" text-anchor="middle">-1</text>
<text x="114.27" y="504.8" font-size="16.64" fill="#262626" stroke="#262626" textLength="26.19" lengthAdjust="spacingAndGlyphs" text-anchor="middle">-0.8</text>
<text x="165.24" y="504.8" font-size="16.64" fill="#262626" stroke="#262626" textLength="26.19" lengthAdjust="spacingAndGlyphs" text-anchor="middle">-0.6</text>
<text x="216.21" y="504.8" font-size="16.64" fill="#262626" stroke="#262626" textLength="26.19" lengthAdjust="spacingAndGlyphs" text-anchor="middle">-0.4</text>
<text x="267.18" y="504.8" font-size="16.64" fill="#262626" stroke="#262626" textLength="26.19" lengthAdjust="spacingAndGlyphs" text-anchor="middle">-0.2</text>
<text x="318.45" y="504.8" font-size="16.64" fill="#262626" stroke="#262626" textLength="8.45" lengthAdjust="spacingAndGlyphs" text-anchor="middle">0</text>
<text x="369.42" y="504.8" font-size="16.64" fill="#262626" stroke="#262626" textLength="21.13" lengthAdjust="spacingAndGlyphs" text-anchor="middle">0.2</text>
<text x="420.39" y="504.8" font-size="16.64" fill="#262626" stroke="#262626" textLength="21.13" lengthAdjust="spacingAndGlyphs" text-anchor="middle">0.4</text>
<text x="471.36" y="504.8" font-size="16.64" fill="#262626" stroke="#262626" textLength="21.13" lengthAdjust="spacingAndGlyphs" text-anchor="middle">0.6</text>
<text x="522.33" y="504.8" font-size="16.64" fill="#262626" stroke="#262626" textLength="21.13" lengthAdjust="spacingAndGlyphs" text-anchor="middle">0.8</text>
<text x="573.3" y="504.8" font-size="16.64" fill="#262626" stroke="#262626" textLength="8.45" lengthAdjust="spacingAndGlyphs" text-anchor="middle">1</text>
<text x="56.6" y="487.5" font-size="16.64" fill="#262626" stroke="#262626" textLength="8.36" lengthAdjust="spacingAndGlyphs" text-anchor="end">0</text>
<text x="56.6" y="445.86" font-size="16.64" fill="#262626" stroke="#262626" textLength="20.91" lengthAdjust="spacingAndGlyphs" text-anchor="end">0.1</text>
<text x="56.6" y="404.22" font-size="16.64" fill="#262626" stroke="#262626" textLength="20.91" lengthAdjust="spacingAndGlyphs" text-anchor="end">0.2</text>
<text x="56.6" y="362.58" font-size="16.64" fill="#262626" stroke="#262626" textLength="20.91" lengthAdjust="spacingAndGlyphs" text-anchor="end">0.3</text>
<text x="56.6" y="320.94" font-size="16.64" fill="#262626" stroke="#262626" textLength="20.91" lengthAdjust="spacingAndGlyphs" text-anchor="end">0.4</text>
<text x="56.6" y="279.3" font-size="16.64" fill="#262626" stroke="#262626" textLength="20.91" lengthAdjust="spacingAndGlyphs" text-anchor="end">0.5</text>
<text x="56.6" y="237.66" font-size="16.64" fill="#262626" stroke="#262626" textLength="20.91" lengthAdjust="spacingAndGlyphs" text-anchor="end">0.6</text>
<text x="56.6" y="196.02" font-size="16.64" fill="#262626" stroke="#262626" textLength="20.91" lengthAdjust="spacingAndGlyphs" text-anchor="end">0.7</text>
<text x="56.6" y="154.38" font-size="16.64" fill="#262626" stroke="#262626" textLength="20.91" lengthAdjust="spacingAndGlyphs" text-anchor="end">0.8</text>
<text x="56.6" y="112.74" font-size="16.64" fill="#262626" stroke="#262626" textLength="20.91" lengthAdjust="spacingAndGlyphs" text-anchor="end">0.9</text>
<text x="56.6" y="71.1" font-size="16.64" fill="#262626" stroke="#262626" textLength="8.36" lengthAdjust="spacingAndGlyphs" text-anchor="end">1</text>
<text transform="translate(172.6 542.6) scale(0.9199 1)" font-size="30.47" fill="#262626" stroke="#262626">Numerosity Ratio (log<tspan x="294.59" y="14.8" font-size="23.19">2</tspan><tspan x="309.26" y="0" font-size="30.47">)</tspan></text>
<text x="22.3" y="272.45" font-size="27.77" fill="#262626" stroke="#262626" textLength="222.7" lengthAdjust="spacingAndGlyphs" text-anchor="middle" transform="rotate(-90 22.3 272.45)">p(Choose Right)</text>
<path d="M703.5,479.26 L707.75,479.15 L712,479.02 L716.24,478.87 L720.49,478.72 L724.74,478.54 L728.99,478.35 L733.23,478.14 L737.48,477.91 L741.73,477.65 L745.98,477.37 L750.22,477.06 L754.47,476.72 L758.72,476.34 L762.97,475.93 L767.21,475.47 L771.46,474.97 L775.71,474.42 L779.96,473.81 L784.2,473.14 L788.45,472.4 L792.7,471.6 L796.95,470.71 L801.19,469.73 L805.44,468.66 L809.69,467.48 L813.94,466.19 L818.18,464.78 L822.43,463.23 L826.68,461.54 L830.92,459.69 L835.17,457.67 L839.42,455.46 L843.67,453.05 L847.91,450.43 L852.16,447.57 L856.41,444.48 L860.66,441.11 L864.9,437.47 L869.15,433.54 L873.4,429.29 L877.65,424.71 L881.89,419.8 L886.14,414.52 L890.39,408.89 L894.64,402.87 L898.88,396.48 L903.13,389.69 L907.38,382.52 L911.63,374.97 L915.88,367.04 L920.12,358.75 L924.37,350.11 L928.62,341.15 L932.87,331.9 L937.11,322.38 L941.36,312.63 L945.61,302.69 L949.86,292.61 L954.1,282.43 L958.35,272.2 L962.6,261.97 L966.85,251.79 L971.09,241.71 L975.34,231.77 L979.59,222.02 L983.84,212.5 L988.08,203.25 L992.33,194.29 L996.58,185.65 L1000.83,177.36 L1005.07,169.43 L1009.32,161.88 L1013.57,154.71 L1017.82,147.92 L1022.06,141.53 L1026.31,135.51 L1030.56,129.88 L1034.81,124.6 L1039.05,119.69 L1043.3,115.11 L1047.55,110.86 L1051.8,106.93 L1056.04,103.29 L1060.29,99.92 L1064.54,96.83 L1068.79,93.97 L1073.03,91.35 L1077.28,88.94 L1081.53,86.73 L1085.78,84.71 L1090.02,82.86 L1094.27,81.17 L1098.52,79.62 L1102.77,78.21 L1107.01,76.92 L1111.26,75.74 L1115.51,74.67 L1119.76,73.69 L1124,72.8 L1128.25,72 L1132.5,71.26 L1136.74,70.59 L1140.99,69.98 L1145.24,69.43 L1149.49,68.93 L1153.74,68.47 L1157.98,68.06 L1162.23,67.68 L1166.48,67.34 L1170.72,67.03 L1174.97,66.75 L1179.22,66.49 L1183.47,66.26 L1187.72,66.05 L1191.96,65.86 L1196.21,65.68 L1200.46,65.53 L1204.7,65.38 L1208.95,65.25 L1213.2,65.14" stroke="#000" stroke-width="1.2" fill="none"/>
<g fill="none" stroke="#000" stroke-width="1.4">
<ellipse cx="703.5" cy="479.27" rx="4.2" ry="4.55"/>
<ellipse cx="746.82" cy="477.28" rx="4.2" ry="4.55"/>
<ellipse cx="752.69" cy="476.88" rx="4.2" ry="4.55"/>
<ellipse cx="760.08" cy="476.24" rx="4.2" ry="4.55"/>
<ellipse cx="785.56" cy="473.05" rx="4.2" ry="4.55"/>
<ellipse cx="792.19" cy="471.73" rx="4.2" ry="4.55"/>
<ellipse cx="796.01" cy="470.7" rx="4.2" ry="4.55"/>
<ellipse cx="809.26" cy="467.5" rx="4.2" ry="4.55"/>
<ellipse cx="820.48" cy="463.63" rx="4.2" ry="4.55"/>
<ellipse cx="827.1" cy="461.27" rx="4.2" ry="4.55"/>
<ellipse cx="834.75" cy="457.71" rx="4.2" ry="4.55"/>
<ellipse cx="841.37" cy="454.29" rx="4.2" ry="4.55"/>
<ellipse cx="852.59" cy="448.28" rx="4.2" ry="4.55"/>
<ellipse cx="865.84" cy="435.96" rx="4.2" ry="4.55"/>
<ellipse cx="869.66" cy="432.62" rx="4.2" ry="4.55"/>
<ellipse cx="876.29" cy="425.74" rx="4.2" ry="4.55"/>
<ellipse cx="884.44" cy="418.48" rx="4.2" ry="4.55"/>
<ellipse cx="891.32" cy="409.67" rx="4.2" ry="4.55"/>
<ellipse cx="901.77" cy="393.14" rx="4.2" ry="4.55"/>
<ellipse cx="909.16" cy="380.11" rx="4.2" ry="4.55"/>
<ellipse cx="912.48" cy="372.93" rx="4.2" ry="4.55"/>
<ellipse cx="915.03" cy="368.73" rx="4.2" ry="4.55"/>
<ellipse cx="919.61" cy="358.87" rx="4.2" ry="4.55"/>
<ellipse cx="923.31" cy="353.44" rx="4.2" ry="4.55"/>
<ellipse cx="993.39" cy="191.55" rx="4.2" ry="4.55"/>
<ellipse cx="997.09" cy="183.96" rx="4.2" ry="4.55"/>
<ellipse cx="1001.67" cy="176.83" rx="4.2" ry="4.55"/>
<ellipse cx="1004.22" cy="168.28" rx="4.2" ry="4.55"/>
<ellipse cx="1007.54" cy="164.15" rx="4.2" ry="4.55"/>
<ellipse cx="1014.93" cy="150.84" rx="4.2" ry="4.55"/>
<ellipse cx="1025.38" cy="137.55" rx="4.2" ry="4.55"/>
<ellipse cx="1032.26" cy="128.53" rx="4.2" ry="4.55"/>
<ellipse cx="1040.41" cy="118.51" rx="4.2" ry="4.55"/>
<ellipse cx="1047.04" cy="111.45" rx="4.2" ry="4.55"/>
<ellipse cx="1050.86" cy="107.27" rx="4.2" ry="4.55"/>
<ellipse cx="1064.11" cy="96.97" rx="4.2" ry="4.55"/>
<ellipse cx="1075.33" cy="90.24" rx="4.2" ry="4.55"/>
<ellipse cx="1081.95" cy="86.93" rx="4.2" ry="4.55"/>
<ellipse cx="1089.6" cy="83.23" rx="4.2" ry="4.55"/>
<ellipse cx="1096.22" cy="80.05" rx="4.2" ry="4.55"/>
<ellipse cx="1107.44" cy="77" rx="4.2" ry="4.55"/>
<ellipse cx="1120.69" cy="73.45" rx="4.2" ry="4.55"/>
<ellipse cx="1124.51" cy="72.63" rx="4.2" ry="4.55"/>
<ellipse cx="1131.14" cy="71.71" rx="4.2" ry="4.55"/>
<ellipse cx="1156.62" cy="68.18" rx="4.2" ry="4.55"/>
<ellipse cx="1164.01" cy="67.44" rx="4.2" ry="4.55"/>
<ellipse cx="1169.88" cy="67.21" rx="4.2" ry="4.55"/>
<ellipse cx="1213.2" cy="65.14" rx="4.2" ry="4.55"/>
</g>
<path d="M703.5,479.5 L706.69,479.44 L709.87,479.36 L713.06,479.28 L716.24,479.2 L719.43,479.11 L722.61,479.01 L725.8,478.9 L728.99,478.79 L732.17,478.66 L735.36,478.53 L738.54,478.39 L741.73,478.24 L744.91,478.07 L748.1,477.9 L751.28,477.7 L754.47,477.5 L757.66,477.28 L760.84,477.04 L764.03,476.79 L767.21,476.51 L770.4,476.22 L773.58,475.9 L776.77,475.56 L779.96,475.2 L783.14,474.81 L786.33,474.38 L789.51,473.93 L792.7,473.44 L795.88,472.92 L799.07,472.36 L802.25,471.76 L805.44,471.11 L808.63,470.41 L811.81,469.67 L815,468.87 L818.18,468.02 L821.37,467.1 L824.55,466.11 L827.74,465.06 L830.92,463.93 L834.11,462.73 L837.3,461.44 L840.48,460.06 L843.67,458.58 L846.85,457 L850.04,455.32 L853.22,453.53 L856.41,451.61 L859.6,449.57 L862.78,447.4 L865.97,445.09 L869.15,442.63 L872.34,440.02 L875.52,437.25 L878.71,434.31 L881.89,431.2 L885.08,427.91 L888.27,424.43 L891.45,420.76 L894.64,416.89 L897.82,412.82 L901.01,408.54 L904.19,404.05 L907.38,399.34 L910.57,394.42 L913.75,389.28 L916.94,383.92 L920.12,378.35 L923.31,372.56 L926.49,366.56 L929.68,360.36 L932.87,353.96 L936.05,347.38 L939.24,340.61 L942.42,333.68 L945.61,326.6 L948.79,319.38 L951.98,312.04 L955.16,304.6 L958.35,297.06" stroke="#ff0000" stroke-width="1.25" stroke-dasharray="15 6.8" fill="none"/>
<path d="M958.35,247.34 L961.54,239.8 L964.72,232.36 L967.91,225.02 L971.09,217.8 L974.28,210.72 L977.46,203.79 L980.65,197.02 L983.84,190.44 L987.02,184.04 L990.21,177.84 L993.39,171.84 L996.58,166.05 L999.76,160.48 L1002.95,155.12 L1006.13,149.98 L1009.32,145.06 L1012.51,140.35 L1015.69,135.86 L1018.88,131.58 L1022.06,127.51 L1025.25,123.64 L1028.43,119.97 L1031.62,116.49 L1034.81,113.2 L1037.99,110.09 L1041.18,107.15 L1044.36,104.38 L1047.55,101.77 L1050.73,99.31 L1053.92,97 L1057.1,94.83 L1060.29,92.79 L1063.48,90.87 L1066.66,89.08 L1069.85,87.4 L1073.03,85.82 L1076.22,84.34 L1079.4,82.96 L1082.59,81.67 L1085.78,80.47 L1088.96,79.34 L1092.15,78.29 L1095.33,77.3 L1098.52,76.38 L1101.7,75.53 L1104.89,74.73 L1108.07,73.99 L1111.26,73.29 L1114.45,72.64 L1117.63,72.04 L1120.82,71.48 L1124,70.96 L1127.19,70.47 L1130.37,70.02 L1133.56,69.59 L1136.74,69.2 L1139.93,68.84 L1143.12,68.5 L1146.3,68.18 L1149.49,67.89 L1152.67,67.61 L1155.86,67.36 L1159.04,67.12 L1162.23,66.9 L1165.42,66.7 L1168.6,66.5 L1171.79,66.33 L1174.97,66.16 L1178.16,66.01 L1181.34,65.87 L1184.53,65.74 L1187.72,65.61 L1190.9,65.5 L1194.09,65.39 L1197.27,65.29 L1200.46,65.2 L1203.64,65.12 L1206.83,65.04 L1210.01,64.96 L1213.2,64.9" stroke="#ff0000" stroke-width="1.25" stroke-dasharray="15 6.8" fill="none"/>
<g fill="#ff0000">
<circle cx="703.5" cy="478.95" r="1.6"/>
<circle cx="963.45" cy="284.88" r="1.6"/>
<circle cx="708.6" cy="478.77" r="1.6"/>
<circle cx="968.54" cy="272.62" r="1.6"/>
<circle cx="713.69" cy="478.57" r="1.6"/>
<circle cx="973.64" cy="260.35" r="1.6"/>
<circle cx="718.79" cy="478.34" r="1.6"/>
<circle cx="978.74" cy="248.16" r="1.6"/>
<circle cx="723.89" cy="478.09" r="1.6"/>
<circle cx="983.84" cy="236.13" r="1.6"/>
<circle cx="728.99" cy="477.8" r="1.6"/>
<circle cx="988.93" cy="224.35" r="1.6"/>
<circle cx="734.08" cy="477.48" r="1.6"/>
<circle cx="994.03" cy="212.89" r="1.6"/>
<circle cx="739.18" cy="477.11" r="1.6"/>
<circle cx="999.13" cy="201.8" r="1.6"/>
<circle cx="744.28" cy="476.71" r="1.6"/>
<circle cx="1004.22" cy="191.14" r="1.6"/>
<circle cx="749.37" cy="476.25" r="1.6"/>
<circle cx="1009.32" cy="180.97" r="1.6"/>
<circle cx="754.47" cy="475.73" r="1.6"/>
<circle cx="1014.42" cy="171.3" r="1.6"/>
<circle cx="759.57" cy="475.16" r="1.6"/>
<circle cx="1019.51" cy="162.18" r="1.6"/>
<circle cx="764.66" cy="474.51" r="1.6"/>
<circle cx="1024.61" cy="153.6" r="1.6"/>
<circle cx="769.76" cy="473.78" r="1.6"/>
<circle cx="1029.71" cy="145.58" r="1.6"/>
<circle cx="774.86" cy="472.97" r="1.6"/>
<circle cx="1034.81" cy="138.12" r="1.6"/>
<circle cx="779.96" cy="472.06" r="1.6"/>
<circle cx="1039.9" cy="131.2" r="1.6"/>
<circle cx="785.05" cy="471.04" r="1.6"/>
<circle cx="1045" cy="124.81" r="1.6"/>
<circle cx="790.15" cy="469.89" r="1.6"/>
<circle cx="1050.1" cy="118.94" r="1.6"/>
<circle cx="795.25" cy="468.61" r="1.6"/>
<circle cx="1055.19" cy="113.55" r="1.6"/>
<circle cx="800.34" cy="467.18" r="1.6"/>
<circle cx="1060.29" cy="108.62" r="1.6"/>
<circle cx="805.44" cy="465.59" r="1.6"/>
<circle cx="1065.39" cy="104.14" r="1.6"/>
<circle cx="810.54" cy="463.81" r="1.6"/>
<circle cx="1070.48" cy="100.06" r="1.6"/>
<circle cx="815.63" cy="461.82" r="1.6"/>
<circle cx="1075.58" cy="96.35" r="1.6"/>
<circle cx="820.73" cy="459.61" r="1.6"/>
<circle cx="1080.68" cy="93" r="1.6"/>
<circle cx="825.83" cy="457.15" r="1.6"/>
<circle cx="1085.78" cy="89.98" r="1.6"/>
<circle cx="830.92" cy="454.42" r="1.6"/>
<circle cx="1090.87" cy="87.25" r="1.6"/>
<circle cx="836.02" cy="451.4" r="1.6"/>
<circle cx="1095.97" cy="84.79" r="1.6"/>
<circle cx="841.12" cy="448.05" r="1.6"/>
<circle cx="1101.07" cy="82.58" r="1.6"/>
<circle cx="846.22" cy="444.34" r="1.6"/>
<circle cx="1106.16" cy="80.59" r="1.6"/>
<circle cx="851.31" cy="440.26" r="1.6"/>
<circle cx="1111.26" cy="78.81" r="1.6"/>
<circle cx="856.41" cy="435.78" r="1.6"/>
<circle cx="1116.36" cy="77.22" r="1.6"/>
<circle cx="861.51" cy="430.85" r="1.6"/>
<circle cx="1121.45" cy="75.79" r="1.6"/>
<circle cx="866.6" cy="425.46" r="1.6"/>
<circle cx="1126.55" cy="74.51" r="1.6"/>
<circle cx="871.7" cy="419.59" r="1.6"/>
<circle cx="1131.65" cy="73.36" r="1.6"/>
<circle cx="876.8" cy="413.2" r="1.6"/>
<circle cx="1136.75" cy="72.34" r="1.6"/>
<circle cx="881.89" cy="406.28" r="1.6"/>
<circle cx="1141.84" cy="71.43" r="1.6"/>
<circle cx="886.99" cy="398.82" r="1.6"/>
<circle cx="1146.94" cy="70.62" r="1.6"/>
<circle cx="892.09" cy="390.8" r="1.6"/>
<circle cx="1152.04" cy="69.89" r="1.6"/>
<circle cx="897.19" cy="382.22" r="1.6"/>
<circle cx="1157.13" cy="69.24" r="1.6"/>
<circle cx="902.28" cy="373.1" r="1.6"/>
<circle cx="1162.23" cy="68.67" r="1.6"/>
<circle cx="907.38" cy="363.43" r="1.6"/>
<circle cx="1167.33" cy="68.15" r="1.6"/>
<circle cx="912.48" cy="353.26" r="1.6"/>
<circle cx="1172.42" cy="67.69" r="1.6"/>
<circle cx="917.57" cy="342.6" r="1.6"/>
<circle cx="1177.52" cy="67.29" r="1.6"/>
<circle cx="922.67" cy="331.51" r="1.6"/>
<circle cx="1182.62" cy="66.92" r="1.6"/>
<circle cx="927.77" cy="320.05" r="1.6"/>
<circle cx="1187.72" cy="66.6" r="1.6"/>
<circle cx="932.87" cy="308.27" r="1.6"/>
<circle cx="1192.81" cy="66.31" r="1.6"/>
<circle cx="937.96" cy="296.24" r="1.6"/>
<circle cx="1197.91" cy="66.06" r="1.6"/>
<circle cx="943.06" cy="284.05" r="1.6"/>
<circle cx="1203.01" cy="65.83" r="1.6"/>
<circle cx="948.16" cy="271.78" r="1.6"/>
<circle cx="1208.1" cy="65.63" r="1.6"/>
<circle cx="953.25" cy="259.52" r="1.6"/>
<circle cx="1213.2" cy="65.45" r="1.6"/>
</g>
<g fill="none" stroke="#ff0000" stroke-width="1.4">
<ellipse cx="703.5" cy="478.97" rx="4.2" ry="4.55"/>
<ellipse cx="703.5" cy="479.57" rx="4.2" ry="4.55"/>
<ellipse cx="746.82" cy="476.31" rx="4.2" ry="4.55"/>
<ellipse cx="746.82" cy="477.98" rx="4.2" ry="4.55"/>
<ellipse cx="752.69" cy="476.47" rx="4.2" ry="4.55"/>
<ellipse cx="752.69" cy="477.4" rx="4.2" ry="4.55"/>
<ellipse cx="760.08" cy="474.77" rx="4.2" ry="4.55"/>
<ellipse cx="760.08" cy="476.81" rx="4.2" ry="4.55"/>
<ellipse cx="785.56" cy="469.65" rx="4.2" ry="4.55"/>
<ellipse cx="785.56" cy="474.29" rx="4.2" ry="4.55"/>
<ellipse cx="792.19" cy="469.28" rx="4.2" ry="4.55"/>
<ellipse cx="792.19" cy="474.27" rx="4.2" ry="4.55"/>
<ellipse cx="796.01" cy="467.75" rx="4.2" ry="4.55"/>
<ellipse cx="796.01" cy="473.29" rx="4.2" ry="4.55"/>
<ellipse cx="809.26" cy="464.89" rx="4.2" ry="4.55"/>
<ellipse cx="809.26" cy="471.34" rx="4.2" ry="4.55"/>
<ellipse cx="820.48" cy="461.37" rx="4.2" ry="4.55"/>
<ellipse cx="820.48" cy="467.95" rx="4.2" ry="4.55"/>
<ellipse cx="827.1" cy="453.74" rx="4.2" ry="4.55"/>
<ellipse cx="827.1" cy="467.73" rx="4.2" ry="4.55"/>
<ellipse cx="834.75" cy="455.44" rx="4.2" ry="4.55"/>
<ellipse cx="834.75" cy="462.1" rx="4.2" ry="4.55"/>
<ellipse cx="841.37" cy="443.75" rx="4.2" ry="4.55"/>
<ellipse cx="841.37" cy="458.6" rx="4.2" ry="4.55"/>
<ellipse cx="852.59" cy="445.11" rx="4.2" ry="4.55"/>
<ellipse cx="852.59" cy="458.99" rx="4.2" ry="4.55"/>
<ellipse cx="865.84" cy="424.77" rx="4.2" ry="4.55"/>
<ellipse cx="865.84" cy="447.26" rx="4.2" ry="4.55"/>
<ellipse cx="869.66" cy="426.88" rx="4.2" ry="4.55"/>
<ellipse cx="869.66" cy="439.06" rx="4.2" ry="4.55"/>
<ellipse cx="876.29" cy="408.13" rx="4.2" ry="4.55"/>
<ellipse cx="876.29" cy="436" rx="4.2" ry="4.55"/>
<ellipse cx="884.44" cy="401.21" rx="4.2" ry="4.55"/>
<ellipse cx="884.44" cy="426.78" rx="4.2" ry="4.55"/>
<ellipse cx="891.32" cy="381.64" rx="4.2" ry="4.55"/>
<ellipse cx="891.32" cy="418.01" rx="4.2" ry="4.55"/>
<ellipse cx="901.77" cy="370.3" rx="4.2" ry="4.55"/>
<ellipse cx="901.77" cy="404.47" rx="4.2" ry="4.55"/>
<ellipse cx="909.16" cy="371.64" rx="4.2" ry="4.55"/>
<ellipse cx="909.16" cy="388.63" rx="4.2" ry="4.55"/>
<ellipse cx="912.48" cy="345.54" rx="4.2" ry="4.55"/>
<ellipse cx="912.48" cy="387.98" rx="4.2" ry="4.55"/>
<ellipse cx="915.03" cy="363.49" rx="4.2" ry="4.55"/>
<ellipse cx="915.03" cy="391.22" rx="4.2" ry="4.55"/>
<ellipse cx="919.61" cy="331.04" rx="4.2" ry="4.55"/>
<ellipse cx="919.61" cy="391.21" rx="4.2" ry="4.55"/>
<ellipse cx="923.31" cy="331.69" rx="4.2" ry="4.55"/>
<ellipse cx="923.31" cy="365.07" rx="4.2" ry="4.55"/>
<ellipse cx="993.39" cy="181.54" rx="4.2" ry="4.55"/>
<ellipse cx="993.39" cy="200.68" rx="4.2" ry="4.55"/>
<ellipse cx="997.09" cy="161.39" rx="4.2" ry="4.55"/>
<ellipse cx="997.09" cy="207.45" rx="4.2" ry="4.55"/>
<ellipse cx="1001.67" cy="155.14" rx="4.2" ry="4.55"/>
<ellipse cx="1001.67" cy="191.19" rx="4.2" ry="4.55"/>
<ellipse cx="1004.22" cy="152.28" rx="4.2" ry="4.55"/>
<ellipse cx="1004.22" cy="182.22" rx="4.2" ry="4.55"/>
<ellipse cx="1007.54" cy="151.84" rx="4.2" ry="4.55"/>
<ellipse cx="1007.54" cy="187.69" rx="4.2" ry="4.55"/>
<ellipse cx="1014.93" cy="131.45" rx="4.2" ry="4.55"/>
<ellipse cx="1014.93" cy="170.17" rx="4.2" ry="4.55"/>
<ellipse cx="1025.38" cy="127.64" rx="4.2" ry="4.55"/>
<ellipse cx="1025.38" cy="146.58" rx="4.2" ry="4.55"/>
<ellipse cx="1032.26" cy="110.12" rx="4.2" ry="4.55"/>
<ellipse cx="1032.26" cy="144.34" rx="4.2" ry="4.55"/>
<ellipse cx="1040.41" cy="112.96" rx="4.2" ry="4.55"/>
<ellipse cx="1040.41" cy="131.22" rx="4.2" ry="4.55"/>
<ellipse cx="1047.04" cy="102.65" rx="4.2" ry="4.55"/>
<ellipse cx="1047.04" cy="123.76" rx="4.2" ry="4.55"/>
<ellipse cx="1050.86" cy="95.35" rx="4.2" ry="4.55"/>
<ellipse cx="1050.86" cy="122.6" rx="4.2" ry="4.55"/>
<ellipse cx="1064.11" cy="87.83" rx="4.2" ry="4.55"/>
<ellipse cx="1064.11" cy="109.66" rx="4.2" ry="4.55"/>
<ellipse cx="1075.33" cy="86.19" rx="4.2" ry="4.55"/>
<ellipse cx="1075.33" cy="94.87" rx="4.2" ry="4.55"/>
<ellipse cx="1081.95" cy="80.26" rx="4.2" ry="4.55"/>
<ellipse cx="1081.95" cy="90.25" rx="4.2" ry="4.55"/>
<ellipse cx="1089.6" cy="78.68" rx="4.2" ry="4.55"/>
<ellipse cx="1089.6" cy="87.62" rx="4.2" ry="4.55"/>
<ellipse cx="1096.22" cy="76.87" rx="4.2" ry="4.55"/>
<ellipse cx="1096.22" cy="83.68" rx="4.2" ry="4.55"/>
<ellipse cx="1107.44" cy="74.29" rx="4.2" ry="4.55"/>
<ellipse cx="1107.44" cy="79.75" rx="4.2" ry="4.55"/>
<ellipse cx="1120.69" cy="71.13" rx="4.2" ry="4.55"/>
<ellipse cx="1120.69" cy="75.99" rx="4.2" ry="4.55"/>
<ellipse cx="1124.51" cy="70.43" rx="4.2" ry="4.55"/>
<ellipse cx="1124.51" cy="74.47" rx="4.2" ry="4.55"/>
<ellipse cx="1131.14" cy="68.95" rx="4.2" ry="4.55"/>
<ellipse cx="1131.14" cy="73.21" rx="4.2" ry="4.55"/>
<ellipse cx="1156.62" cy="67.43" rx="4.2" ry="4.55"/>
<ellipse cx="1156.62" cy="69.48" rx="4.2" ry="4.55"/>
<ellipse cx="1164.01" cy="66.79" rx="4.2" ry="4.55"/>
<ellipse cx="1164.01" cy="68.13" rx="4.2" ry="4.55"/>
<ellipse cx="1169.88" cy="66.51" rx="4.2" ry="4.55"/>
<ellipse cx="1169.88" cy="67.78" rx="4.2" ry="4.55"/>
<ellipse cx="1213.2" cy="64.76" rx="4.2" ry="4.55"/>
<ellipse cx="1213.2" cy="65.82" rx="4.2" ry="4.55"/>
</g>
<path d="M703.5,479.61 L706.69,479.55 L709.87,479.48 L713.06,479.41 L716.24,479.33 L719.43,479.25 L722.61,479.16 L725.8,479.07 L728.99,478.97 L732.17,478.86 L735.36,478.74 L738.54,478.62 L741.73,478.48 L744.91,478.33 L748.1,478.18 L751.28,478.01 L754.47,477.83 L757.66,477.63 L760.84,477.42 L764.03,477.19 L767.21,476.95 L770.4,476.69 L773.58,476.41 L776.77,476.1 L779.96,475.78 L783.14,475.43 L786.33,475.05 L789.51,474.65 L792.7,474.22 L795.88,473.75 L799.07,473.25 L802.25,472.72 L805.44,472.14 L808.63,471.52 L811.81,470.86 L815,470.14 L818.18,469.38 L821.37,468.56 L824.55,467.68 L827.74,466.74 L830.92,465.73 L834.11,464.65 L837.3,463.49 L840.48,462.26 L843.67,460.93 L846.85,459.52 L850.04,458 L853.22,456.39 L856.41,454.67 L859.6,452.83 L862.78,450.87 L865.97,448.78 L869.15,446.55 L872.34,444.19 L875.52,441.67 L878.71,439 L881.89,436.17 L885.08,433.17 L888.27,429.99 L891.45,426.63 L894.64,423.09 L897.82,419.34 L901.01,415.4 L904.19,411.25 L907.38,406.89 L910.57,402.32 L913.75,397.53 L916.94,392.53 L920.12,387.31 L923.31,381.87 L926.49,376.21 L929.68,370.35 L932.87,364.27 L936.05,358 L939.24,351.53 L942.42,344.87 L945.61,338.05 L948.79,331.06 L951.98,323.93 L955.16,316.66 L958.35,309.28" stroke="#00ff00" stroke-width="1.25" stroke-dasharray="15 6.8" fill="none"/>
<path d="M958.35,235.12 L961.54,227.74 L964.72,220.47 L967.91,213.34 L971.09,206.35 L974.28,199.53 L977.46,192.87 L980.65,186.4 L983.84,180.13 L987.02,174.05 L990.21,168.19 L993.39,162.53 L996.58,157.09 L999.76,151.87 L1002.95,146.87 L1006.13,142.08 L1009.32,137.51 L1012.51,133.15 L1015.69,129 L1018.88,125.06 L1022.06,121.31 L1025.25,117.77 L1028.43,114.41 L1031.62,111.23 L1034.81,108.23 L1037.99,105.4 L1041.18,102.73 L1044.36,100.21 L1047.55,97.85 L1050.73,95.62 L1053.92,93.53 L1057.1,91.57 L1060.29,89.73 L1063.48,88.01 L1066.66,86.4 L1069.85,84.88 L1073.03,83.47 L1076.22,82.14 L1079.4,80.91 L1082.59,79.75 L1085.78,78.67 L1088.96,77.66 L1092.15,76.72 L1095.33,75.84 L1098.52,75.02 L1101.7,74.26 L1104.89,73.54 L1108.07,72.88 L1111.26,72.26 L1114.45,71.68 L1117.63,71.15 L1120.82,70.65 L1124,70.18 L1127.19,69.75 L1130.37,69.35 L1133.56,68.97 L1136.74,68.62 L1139.93,68.3 L1143.12,67.99 L1146.3,67.71 L1149.49,67.45 L1152.67,67.21 L1155.86,66.98 L1159.04,66.77 L1162.23,66.57 L1165.42,66.39 L1168.6,66.22 L1171.79,66.07 L1174.97,65.92 L1178.16,65.78 L1181.34,65.66 L1184.53,65.54 L1187.72,65.43 L1190.9,65.33 L1194.09,65.24 L1197.27,65.15 L1200.46,65.07 L1203.64,64.99 L1206.83,64.92 L1210.01,64.85 L1213.2,64.79" stroke="#00ff00" stroke-width="1.25" stroke-dasharray="15 6.8" fill="none"/>
<g fill="#00ff00">
<circle cx="703.5" cy="478.77" r="1.6"/>
<circle cx="963.45" cy="297.27" r="1.6"/>
<circle cx="708.6" cy="478.57" r="1.6"/>
<circle cx="968.54" cy="285.09" r="1.6"/>
<circle cx="713.69" cy="478.34" r="1.6"/>
<circle cx="973.64" cy="272.82" r="1.6"/>
<circle cx="718.79" cy="478.08" r="1.6"/>
<circle cx="978.74" cy="260.55" r="1.6"/>
<circle cx="723.89" cy="477.8" r="1.6"/>
<circle cx="983.84" cy="248.36" r="1.6"/>
<circle cx="728.99" cy="477.47" r="1.6"/>
<circle cx="988.93" cy="236.33" r="1.6"/>
<circle cx="734.08" cy="477.11" r="1.6"/>
<circle cx="994.03" cy="224.55" r="1.6"/>
<circle cx="739.18" cy="476.7" r="1.6"/>
<circle cx="999.13" cy="213.08" r="1.6"/>
<circle cx="744.28" cy="476.24" r="1.6"/>
<circle cx="1004.22" cy="201.98" r="1.6"/>
<circle cx="749.37" cy="475.72" r="1.6"/>
<circle cx="1009.32" cy="191.32" r="1.6"/>
<circle cx="754.47" cy="475.15" r="1.6"/>
<circle cx="1014.42" cy="181.14" r="1.6"/>
<circle cx="759.57" cy="474.5" r="1.6"/>
<circle cx="1019.51" cy="171.46" r="1.6"/>
<circle cx="764.66" cy="473.77" r="1.6"/>
<circle cx="1024.61" cy="162.33" r="1.6"/>
<circle cx="769.76" cy="472.95" r="1.6"/>
<circle cx="1029.71" cy="153.74" r="1.6"/>
<circle cx="774.86" cy="472.04" r="1.6"/>
<circle cx="1034.81" cy="145.71" r="1.6"/>
<circle cx="779.96" cy="471.02" r="1.6"/>
<circle cx="1039.9" cy="138.24" r="1.6"/>
<circle cx="785.05" cy="469.87" r="1.6"/>
<circle cx="1045" cy="131.31" r="1.6"/>
<circle cx="790.15" cy="468.59" r="1.6"/>
<circle cx="1050.1" cy="124.92" r="1.6"/>
<circle cx="795.25" cy="467.16" r="1.6"/>
<circle cx="1055.19" cy="119.03" r="1.6"/>
<circle cx="800.34" cy="465.56" r="1.6"/>
<circle cx="1060.29" cy="113.64" r="1.6"/>
<circle cx="805.44" cy="463.78" r="1.6"/>
<circle cx="1065.39" cy="108.7" r="1.6"/>
<circle cx="810.54" cy="461.79" r="1.6"/>
<circle cx="1070.48" cy="104.21" r="1.6"/>
<circle cx="815.63" cy="459.57" r="1.6"/>
<circle cx="1075.58" cy="100.12" r="1.6"/>
<circle cx="820.73" cy="457.11" r="1.6"/>
<circle cx="1080.68" cy="96.41" r="1.6"/>
<circle cx="825.83" cy="454.37" r="1.6"/>
<circle cx="1085.78" cy="93.06" r="1.6"/>
<circle cx="830.92" cy="451.34" r="1.6"/>
<circle cx="1090.87" cy="90.03" r="1.6"/>
<circle cx="836.02" cy="447.99" r="1.6"/>
<circle cx="1095.97" cy="87.29" r="1.6"/>
<circle cx="841.12" cy="444.28" r="1.6"/>
<circle cx="1101.07" cy="84.83" r="1.6"/>
<circle cx="846.22" cy="440.19" r="1.6"/>
<circle cx="1106.16" cy="82.61" r="1.6"/>
<circle cx="851.31" cy="435.7" r="1.6"/>
<circle cx="1111.26" cy="80.62" r="1.6"/>
<circle cx="856.41" cy="430.76" r="1.6"/>
<circle cx="1116.36" cy="78.84" r="1.6"/>
<circle cx="861.51" cy="425.37" r="1.6"/>
<circle cx="1121.45" cy="77.24" r="1.6"/>
<circle cx="866.6" cy="419.48" r="1.6"/>
<circle cx="1126.55" cy="75.81" r="1.6"/>
<circle cx="871.7" cy="413.09" r="1.6"/>
<circle cx="1131.65" cy="74.53" r="1.6"/>
<circle cx="876.8" cy="406.16" r="1.6"/>
<circle cx="1136.75" cy="73.38" r="1.6"/>
<circle cx="881.89" cy="398.69" r="1.6"/>
<circle cx="1141.84" cy="72.36" r="1.6"/>
<circle cx="886.99" cy="390.66" r="1.6"/>
<circle cx="1146.94" cy="71.45" r="1.6"/>
<circle cx="892.09" cy="382.07" r="1.6"/>
<circle cx="1152.04" cy="70.63" r="1.6"/>
<circle cx="897.19" cy="372.94" r="1.6"/>
<circle cx="1157.13" cy="69.9" r="1.6"/>
<circle cx="902.28" cy="363.26" r="1.6"/>
<circle cx="1162.23" cy="69.25" r="1.6"/>
<circle cx="907.38" cy="353.08" r="1.6"/>
<circle cx="1167.33" cy="68.68" r="1.6"/>
<circle cx="912.48" cy="342.42" r="1.6"/>
<circle cx="1172.42" cy="68.16" r="1.6"/>
<circle cx="917.57" cy="331.32" r="1.6"/>
<circle cx="1177.52" cy="67.7" r="1.6"/>
<circle cx="922.67" cy="319.85" r="1.6"/>
<circle cx="1182.62" cy="67.29" r="1.6"/>
<circle cx="927.77" cy="308.07" r="1.6"/>
<circle cx="1187.72" cy="66.93" r="1.6"/>
<circle cx="932.87" cy="296.04" r="1.6"/>
<circle cx="1192.81" cy="66.6" r="1.6"/>
<circle cx="937.96" cy="283.85" r="1.6"/>
<circle cx="1197.91" cy="66.32" r="1.6"/>
<circle cx="943.06" cy="271.58" r="1.6"/>
<circle cx="1203.01" cy="66.06" r="1.6"/>
<circle cx="948.16" cy="259.31" r="1.6"/>
<circle cx="1208.1" cy="65.83" r="1.6"/>
<circle cx="953.25" cy="247.13" r="1.6"/>
<circle cx="1213.2" cy="65.63" r="1.6"/>
</g>
<g fill="none" stroke="#00ff00" stroke-width="1.4">
<ellipse cx="703.5" cy="479.02" rx="4.2" ry="4.55"/>
<ellipse cx="703.5" cy="479.58" rx="4.2" ry="4.55"/>
<ellipse cx="746.82" cy="475.72" rx="4.2" ry="4.55"/>
<ellipse cx="746.82" cy="478.16" rx="4.2" ry="4.55"/>
<ellipse cx="752.69" cy="475.67" rx="4.2" ry="4.55"/>
<ellipse cx="752.69" cy="477.68" rx="4.2" ry="4.55"/>
<ellipse cx="760.08" cy="474.17" rx="4.2" ry="4.55"/>
<ellipse cx="760.08" cy="477.69" rx="4.2" ry="4.55"/>
<ellipse cx="785.56" cy="465.24" rx="4.2" ry="4.55"/>
<ellipse cx="785.56" cy="474.86" rx="4.2" ry="4.55"/>
<ellipse cx="792.19" cy="469" rx="4.2" ry="4.55"/>
<ellipse cx="792.19" cy="474.38" rx="4.2" ry="4.55"/>
<ellipse cx="796.01" cy="467.36" rx="4.2" ry="4.55"/>
<ellipse cx="796.01" cy="473.79" rx="4.2" ry="4.55"/>
<ellipse cx="809.26" cy="468.2" rx="4.2" ry="4.55"/>
<ellipse cx="809.26" cy="472.01" rx="4.2" ry="4.55"/>
<ellipse cx="820.48" cy="453.7" rx="4.2" ry="4.55"/>
<ellipse cx="820.48" cy="470.62" rx="4.2" ry="4.55"/>
<ellipse cx="827.1" cy="453.89" rx="4.2" ry="4.55"/>
<ellipse cx="827.1" cy="464.94" rx="4.2" ry="4.55"/>
<ellipse cx="834.75" cy="444.9" rx="4.2" ry="4.55"/>
<ellipse cx="834.75" cy="460.61" rx="4.2" ry="4.55"/>
<ellipse cx="841.37" cy="451.7" rx="4.2" ry="4.55"/>
<ellipse cx="841.37" cy="462.81" rx="4.2" ry="4.55"/>
<ellipse cx="852.59" cy="436.55" rx="4.2" ry="4.55"/>
<ellipse cx="852.59" cy="454.54" rx="4.2" ry="4.55"/>
<ellipse cx="865.84" cy="411.49" rx="4.2" ry="4.55"/>
<ellipse cx="865.84" cy="458.77" rx="4.2" ry="4.55"/>
<ellipse cx="869.66" cy="406.28" rx="4.2" ry="4.55"/>
<ellipse cx="869.66" cy="452.41" rx="4.2" ry="4.55"/>
<ellipse cx="876.29" cy="400.47" rx="4.2" ry="4.55"/>
<ellipse cx="876.29" cy="448.33" rx="4.2" ry="4.55"/>
<ellipse cx="884.44" cy="392.94" rx="4.2" ry="4.55"/>
<ellipse cx="884.44" cy="425.84" rx="4.2" ry="4.55"/>
<ellipse cx="891.32" cy="385.05" rx="4.2" ry="4.55"/>
<ellipse cx="891.32" cy="425.42" rx="4.2" ry="4.55"/>
<ellipse cx="901.77" cy="353.98" rx="4.2" ry="4.55"/>
<ellipse cx="901.77" cy="413.24" rx="4.2" ry="4.55"/>
<ellipse cx="909.16" cy="350.59" rx="4.2" ry="4.55"/>
<ellipse cx="909.16" cy="389.01" rx="4.2" ry="4.55"/>
<ellipse cx="912.48" cy="327.54" rx="4.2" ry="4.55"/>
<ellipse cx="912.48" cy="402.31" rx="4.2" ry="4.55"/>
<ellipse cx="915.03" cy="296.16" rx="4.2" ry="4.55"/>
<ellipse cx="915.03" cy="406.59" rx="4.2" ry="4.55"/>
<ellipse cx="919.61" cy="313.25" rx="4.2" ry="4.55"/>
<ellipse cx="919.61" cy="390.99" rx="4.2" ry="4.55"/>
<ellipse cx="923.31" cy="316.42" rx="4.2" ry="4.55"/>
<ellipse cx="923.31" cy="373.69" rx="4.2" ry="4.55"/>
<ellipse cx="993.39" cy="160.05" rx="4.2" ry="4.55"/>
<ellipse cx="993.39" cy="216.63" rx="4.2" ry="4.55"/>
<ellipse cx="997.09" cy="173.73" rx="4.2" ry="4.55"/>
<ellipse cx="997.09" cy="240.15" rx="4.2" ry="4.55"/>
<ellipse cx="1001.67" cy="142.78" rx="4.2" ry="4.55"/>
<ellipse cx="1001.67" cy="221.35" rx="4.2" ry="4.55"/>
<ellipse cx="1004.22" cy="155.44" rx="4.2" ry="4.55"/>
<ellipse cx="1004.22" cy="223.02" rx="4.2" ry="4.55"/>
<ellipse cx="1007.54" cy="128.94" rx="4.2" ry="4.55"/>
<ellipse cx="1007.54" cy="185.16" rx="4.2" ry="4.55"/>
<ellipse cx="1014.93" cy="118.61" rx="4.2" ry="4.55"/>
<ellipse cx="1014.93" cy="192.28" rx="4.2" ry="4.55"/>
<ellipse cx="1025.38" cy="117.62" rx="4.2" ry="4.55"/>
<ellipse cx="1025.38" cy="174.3" rx="4.2" ry="4.55"/>
<ellipse cx="1032.26" cy="106.07" rx="4.2" ry="4.55"/>
<ellipse cx="1032.26" cy="134.57" rx="4.2" ry="4.55"/>
<ellipse cx="1040.41" cy="108.38" rx="4.2" ry="4.55"/>
<ellipse cx="1040.41" cy="124.4" rx="4.2" ry="4.55"/>
<ellipse cx="1047.04" cy="93.84" rx="4.2" ry="4.55"/>
<ellipse cx="1047.04" cy="130.16" rx="4.2" ry="4.55"/>
<ellipse cx="1050.86" cy="105.32" rx="4.2" ry="4.55"/>
<ellipse cx="1050.86" cy="113.96" rx="4.2" ry="4.55"/>
<ellipse cx="1064.11" cy="88" rx="4.2" ry="4.55"/>
<ellipse cx="1064.11" cy="113.72" rx="4.2" ry="4.55"/>
<ellipse cx="1075.33" cy="81.47" rx="4.2" ry="4.55"/>
<ellipse cx="1075.33" cy="98.33" rx="4.2" ry="4.55"/>
<ellipse cx="1081.95" cy="76.86" rx="4.2" ry="4.55"/>
<ellipse cx="1081.95" cy="100.3" rx="4.2" ry="4.55"/>
<ellipse cx="1089.6" cy="75.41" rx="4.2" ry="4.55"/>
<ellipse cx="1089.6" cy="85.68" rx="4.2" ry="4.55"/>
<ellipse cx="1096.22" cy="73.39" rx="4.2" ry="4.55"/>
<ellipse cx="1096.22" cy="87.76" rx="4.2" ry="4.55"/>
<ellipse cx="1107.44" cy="74.05" rx="4.2" ry="4.55"/>
<ellipse cx="1107.44" cy="79.63" rx="4.2" ry="4.55"/>
<ellipse cx="1120.69" cy="70.55" rx="4.2" ry="4.55"/>
<ellipse cx="1120.69" cy="77.23" rx="4.2" ry="4.55"/>
<ellipse cx="1124.51" cy="68.95" rx="4.2" ry="4.55"/>
<ellipse cx="1124.51" cy="76.85" rx="4.2" ry="4.55"/>
<ellipse cx="1131.14" cy="71.37" rx="4.2" ry="4.55"/>
<ellipse cx="1131.14" cy="75.27" rx="4.2" ry="4.55"/>
<ellipse cx="1156.62" cy="67.86" rx="4.2" ry="4.55"/>
<ellipse cx="1156.62" cy="69.29" rx="4.2" ry="4.55"/>
<ellipse cx="1164.01" cy="66.36" rx="4.2" ry="4.55"/>
<ellipse cx="1164.01" cy="69.52" rx="4.2" ry="4.55"/>
<ellipse cx="1169.88" cy="66.16" rx="4.2" ry="4.55"/>
<ellipse cx="1169.88" cy="67.9" rx="4.2" ry="4.55"/>
<ellipse cx="1213.2" cy="64.78" rx="4.2" ry="4.55"/>
<ellipse cx="1213.2" cy="65.34" rx="4.2" ry="4.55"/>
</g>
<rect x="703.5" y="64" width="509.7" height="416.4" fill="none" stroke="#4d4d4d" stroke-width="1.4"/>
<g stroke="#4d4d4d" stroke-width="1.4">
<path d="M754.47 480.4v-5.5M754.47 64v5.5"/>
<path d="M805.44 480.4v-5.5M805.44 64v5.5"/>
<path d="M856.41 480.4v-5.5M856.41 64v5.5"/>
<path d="M907.38 480.4v-5.5M907.38 64v5.5"/>
<path d="M958.35 480.4v-5.5M958.35 64v5.5"/>
<path d="M1009.32 480.4v-5.5M1009.32 64v5.5"/>
<path d="M1060.29 480.4v-5.5M1060.29 64v5.5"/>
<path d="M1111.26 480.4v-5.5M1111.26 64v5.5"/>
<path d="M1162.23 480.4v-5.5M1162.23 64v5.5"/>
<path d="M703.5 438.76h5.5M1213.2 438.76h-5.5"/>
<path d="M703.5 397.12h5.5M1213.2 397.12h-5.5"/>
<path d="M703.5 355.48h5.5M1213.2 355.48h-5.5"/>
<path d="M703.5 313.84h5.5M1213.2 313.84h-5.5"/>
<path d="M703.5 272.2h5.5M1213.2 272.2h-5.5"/>
<path d="M703.5 230.56h5.5M1213.2 230.56h-5.5"/>
<path d="M703.5 188.92h5.5M1213.2 188.92h-5.5"/>
<path d="M703.5 147.28h5.5M1213.2 147.28h-5.5"/>
<path d="M703.5 105.64h5.5M1213.2 105.64h-5.5"/>
</g>
<text x="703.2" y="504.8" font-size="16.64" fill="#262626" stroke="#262626" textLength="13.52" lengthAdjust="spacingAndGlyphs" text-anchor="middle">-1</text>
<text x="754.17" y="504.8" font-size="16.64" fill="#262626" stroke="#262626" textLength="26.19" lengthAdjust="spacingAndGlyphs" text-anchor="middle">-0.8</text>
<text x="805.14" y="504.8" font-size="16.64" fill="#262626" stroke="#262626" textLength="26.19" lengthAdjust="spacingAndGlyphs" text-anchor="middle">-0.6</text>
<text x="856.11" y="504.8" font-size="16.64" fill="#262626" stroke="#262626" textLength="26.19" lengthAdjust="spacingAndGlyphs" text-anchor="middle">-0.4</text>
<text x="907.08" y="504.8" font-size="16.64" fill="#262626" stroke="#262626" textLength="26.19" lengthAdjust="spacingAndGlyphs" text-anchor="middle">-0.2</text>
<text x="958.35" y="504.8" font-size="16.64" fill="#262626" stroke="#262626" textLength="8.45" lengthAdjust="spacingAndGlyphs" text-anchor="middle">0</text>
<text x="1009.32" y="504.8" font-size="16.64" fill="#262626" stroke="#262626" textLength="21.13" lengthAdjust="spacingAndGlyphs" text-anchor="middle">0.2</text>
<text x="1060.29" y="504.8" font-size="16.64" fill="#262626" stroke="#262626" textLength="21.13" lengthAdjust="spacingAndGlyphs" text-anchor="middle">0.4</text>
<text x="1111.26" y="504.8" font-size="16.64" fill="#262626" stroke="#262626" textLength="21.13" lengthAdjust="spacingAndGlyphs" text-anchor="middle">0.6</text>
<text x="1162.23" y="504.8" font-size="16.64" fill="#262626" stroke="#262626" textLength="21.13" lengthAdjust="spacingAndGlyphs" text-anchor="middle">0.8</text>
<text x="1213.2" y="504.8" font-size="16.64" fill="#262626" stroke="#262626" textLength="8.45" lengthAdjust="spacingAndGlyphs" text-anchor="middle">1</text>
<text x="696.5" y="487.5" font-size="16.64" fill="#262626" stroke="#262626" textLength="8.36" lengthAdjust="spacingAndGlyphs" text-anchor="end">0</text>
<text x="696.5" y="445.86" font-size="16.64" fill="#262626" stroke="#262626" textLength="20.91" lengthAdjust="spacingAndGlyphs" text-anchor="end">0.1</text>
<text x="696.5" y="404.22" font-size="16.64" fill="#262626" stroke="#262626" textLength="20.91" lengthAdjust="spacingAndGlyphs" text-anchor="end">0.2</text>
<text x="696.5" y="362.58" font-size="16.64" fill="#262626" stroke="#262626" textLength="20.91" lengthAdjust="spacingAndGlyphs" text-anchor="end">0.3</text>
<text x="696.5" y="320.94" font-size="16.64" fill="#262626" stroke="#262626" textLength="20.91" lengthAdjust="spacingAndGlyphs" text-anchor="end">0.4</text>
<text x="696.5" y="279.3" font-size="16.64" fill="#262626" stroke="#262626" textLength="20.91" lengthAdjust="spacingAndGlyphs" text-anchor="end">0.5</text>
<text x="696.5" y="237.66" font-size="16.64" fill="#262626" stroke="#262626" textLength="20.91" lengthAdjust="spacingAndGlyphs" text-anchor="end">0.6</text>
<text x="696.5" y="196.02" font-size="16.64" fill="#262626" stroke="#262626" textLength="20.91" lengthAdjust="spacingAndGlyphs" text-anchor="end">0.7</text>
<text x="696.5" y="154.38" font-size="16.64" fill="#262626" stroke="#262626" textLength="20.91" lengthAdjust="spacingAndGlyphs" text-anchor="end">0.8</text>
<text x="696.5" y="112.74" font-size="16.64" fill="#262626" stroke="#262626" textLength="20.91" lengthAdjust="spacingAndGlyphs" text-anchor="end">0.9</text>
<text x="696.5" y="71.1" font-size="16.64" fill="#262626" stroke="#262626" textLength="8.36" lengthAdjust="spacingAndGlyphs" text-anchor="end">1</text>
<text transform="translate(812.5 542.6) scale(0.9199 1)" font-size="30.47" fill="#262626" stroke="#262626">Numerosity Ratio (log<tspan x="294.59" y="14.8" font-size="23.19">2</tspan><tspan x="309.26" y="0" font-size="30.47">)</tspan></text>
<text x="662.2" y="272.45" font-size="27.77" fill="#262626" stroke="#262626" textLength="222.7" lengthAdjust="spacingAndGlyphs" text-anchor="middle" transform="rotate(-90 662.2 272.45)">p(Choose Right)</text>
<rect x="1295.5" y="63.3" width="348.3" height="270" fill="#fff" stroke="#262626" stroke-width="1.3"/>
<text x="1390.3" y="92.7" font-size="23.4" fill="#000" stroke="#000" textLength="83.33" lengthAdjust="spacingAndGlyphs">All trials</text>
<text x="1390.3" y="125.5" font-size="23.4" fill="#000" stroke="#000" textLength="91.28" lengthAdjust="spacingAndGlyphs">All ratios</text>
<text x="1390.3" y="158.3" font-size="23.4" fill="#000" stroke="#000" textLength="164.09" lengthAdjust="spacingAndGlyphs">Size Congruent</text>
<text x="1390.3" y="191.1" font-size="23.4" fill="#000" stroke="#000" textLength="165.42" lengthAdjust="spacingAndGlyphs">Size Incogruent</text>
<text x="1390.3" y="223.9" font-size="23.4" fill="#000" stroke="#000" textLength="202.4" lengthAdjust="spacingAndGlyphs">Extreme size ratios</text>
<text x="1390.3" y="256.7" font-size="23.4" fill="#000" stroke="#000" textLength="203.81" lengthAdjust="spacingAndGlyphs">Spacing Congruent</text>
<text x="1390.3" y="289.5" font-size="23.4" fill="#000" stroke="#000" textLength="218.38" lengthAdjust="spacingAndGlyphs">Spacing Incongruent</text>
<text x="1390.3" y="322.3" font-size="23.4" fill="#000" stroke="#000" textLength="242.12" lengthAdjust="spacingAndGlyphs">Extreme spacing ratios</text>
<line x1="1303.7" y1="83.3" x2="1383.6" y2="83.3" stroke="#000" stroke-width="1.1"/>
<circle cx="1342.8" cy="116.1" r="8" fill="none" stroke="#000" stroke-width="1.5"/>
<line x1="1303.7" y1="148.9" x2="1383.6" y2="148.9" stroke="#ff0000" stroke-width="1.1" stroke-dasharray="19.5 12.3"/>
<circle cx="1342.8" cy="181.7" r="2.8" fill="#ff0000" stroke="none" stroke-width="1"/>
<circle cx="1342.8" cy="214.5" r="8" fill="none" stroke="#ff0000" stroke-width="1.5"/>
<line x1="1303.7" y1="247.3" x2="1383.6" y2="247.3" stroke="#00ff00" stroke-width="1.1" stroke-dasharray="19.5 12.3"/>
<circle cx="1342.8" cy="280.1" r="2.8" fill="#00ff00" stroke="none" stroke-width="1"/>
<circle cx="1342.8" cy="312.9" r="8" fill="none" stroke="#00ff00" stroke-width="1.5"/>
<text x="0.5" y="681" font-size="42.22" fill="#000" stroke="#000" textLength="27" lengthAdjust="spacingAndGlyphs" font-weight="bold">B</text>
<text x="45.3" y="732.8" font-size="28.08" fill="#000" stroke="#000" textLength="140" lengthAdjust="spacingAndGlyphs">Coefficients</text>
<rect x="45.8" y="779.2" width="237" height="389" fill="#fff" stroke="none" stroke-width="1"/>
<g stroke="#ebebeb" fill="none">
<path d="M45.8 1106.42H282.8" stroke-width="0.7"/>
<path d="M45.8 1018.07H282.8" stroke-width="0.7"/>
<path d="M45.8 929.72H282.8" stroke-width="0.7"/>
<path d="M45.8 841.38H282.8" stroke-width="0.7"/>
<path d="M45.8 1150.6H282.8" stroke-width="1.3"/>
<path d="M45.8 1062.25H282.8" stroke-width="1.3"/>
<path d="M45.8 973.9H282.8" stroke-width="1.3"/>
<path d="M45.8 885.55H282.8" stroke-width="1.3"/>
<path d="M45.8 797.2H282.8" stroke-width="1.3"/>
<path d="M110.44 779.2V1168.2" stroke-width="1.3"/>
<path d="M218.16 779.2V1168.2" stroke-width="1.3"/>
</g>
<text x="173.3" y="804.4" font-size="18.3" fill="#000" stroke="#000" textLength="28.6" lengthAdjust="spacingAndGlyphs" text-anchor="middle">****</text>
<g stroke="#0d0d0d" stroke-width="1.4">
<path d="M110.44 890.2V927M110.44 976.2V1026"/>
<rect x="72.64" y="927" width="75.6" height="49.2" fill="#bebebe"/>
<path d="M72.64 951.6H148.24" stroke-width="2.6"/>
</g>
<g stroke="#0d0d0d" stroke-width="1.4">
<path d="M218.16 810V862.5M218.16 898.1V931.2"/>
<rect x="180.36" y="862.5" width="75.6" height="35.6" fill="#bebebe"/>
<path d="M180.36 880.9H255.96" stroke-width="2.6"/>
</g>
<circle cx="218.16" cy="808.8" r="3.3" fill="#000" stroke="none" stroke-width="1"/>
<rect x="45.8" y="779.2" width="237" height="389" fill="none" stroke="#333333" stroke-width="1.4"/>
<rect x="45.8" y="745.6" width="237" height="33.6" fill="#d9d9d9" stroke="#333333" stroke-width="1.4"/>
<text x="162.7" y="769.7" font-size="19.03" fill="#1a1a1a" stroke="#1a1a1a" textLength="54.2" lengthAdjust="spacingAndGlyphs" text-anchor="middle">B Num</text>
<line x1="110.44" y1="1168.2" x2="110.44" y2="1173" stroke="#333333" stroke-width="1.3"/>
<text x="109.24" y="1193" font-size="18.3" fill="#4d4d4d" stroke="#4d4d4d" textLength="49.6" lengthAdjust="spacingAndGlyphs" text-anchor="middle">Young</text>
<line x1="218.16" y1="1168.2" x2="218.16" y2="1173" stroke="#333333" stroke-width="1.3"/>
<text x="217.76" y="1193" font-size="18.3" fill="#4d4d4d" stroke="#4d4d4d" textLength="53.6" lengthAdjust="spacingAndGlyphs" text-anchor="middle">Mature</text>
<rect x="291.4" y="779.2" width="237.2" height="389" fill="#fff" stroke="none" stroke-width="1"/>
<g stroke="#ebebeb" fill="none">
<path d="M291.4 1106.42H528.6" stroke-width="0.7"/>
<path d="M291.4 1018.07H528.6" stroke-width="0.7"/>
<path d="M291.4 929.72H528.6" stroke-width="0.7"/>
<path d="M291.4 841.38H528.6" stroke-width="0.7"/>
<path d="M291.4 1150.6H528.6" stroke-width="1.3"/>
<path d="M291.4 1062.25H528.6" stroke-width="1.3"/>
<path d="M291.4 973.9H528.6" stroke-width="1.3"/>
<path d="M291.4 885.55H528.6" stroke-width="1.3"/>
<path d="M291.4 797.2H528.6" stroke-width="1.3"/>
<path d="M356.09 779.2V1168.2" stroke-width="1.3"/>
<path d="M463.91 779.2V1168.2" stroke-width="1.3"/>
</g>
<text x="419" y="804.4" font-size="18.3" fill="#000" stroke="#000" textLength="28.6" lengthAdjust="spacingAndGlyphs" text-anchor="middle">****</text>
<g stroke="#0d0d0d" stroke-width="1.4">
<path d="M356.09 1089.5V1099.9M356.09 1115.4V1128.8"/>
<rect x="318.29" y="1099.9" width="75.6" height="15.5" fill="#bebebe"/>
<path d="M318.29 1105.3H393.89" stroke-width="2.6"/>
</g>
<g stroke="#0d0d0d" stroke-width="1.4">
<path d="M463.91 1118V1132.7M463.91 1143.3V1150"/>
<rect x="426.11" y="1132.7" width="75.6" height="10.6" fill="#bebebe"/>
<path d="M426.11 1136.4H501.71" stroke-width="2.6"/>
</g>
<circle cx="463.91" cy="1116.6" r="3.3" fill="#000" stroke="none" stroke-width="1"/>
<rect x="291.4" y="779.2" width="237.2" height="389" fill="none" stroke="#333333" stroke-width="1.4"/>
<rect x="291.4" y="745.6" width="237.2" height="33.6" fill="#d9d9d9" stroke="#333333" stroke-width="1.4"/>
<text x="408.4" y="769.7" font-size="19.03" fill="#1a1a1a" stroke="#1a1a1a" textLength="52" lengthAdjust="spacingAndGlyphs" text-anchor="middle">B Size</text>
<line x1="356.09" y1="1168.2" x2="356.09" y2="1173" stroke="#333333" stroke-width="1.3"/>
<text x="354.89" y="1193" font-size="18.3" fill="#4d4d4d" stroke="#4d4d4d" textLength="49.6" lengthAdjust="spacingAndGlyphs" text-anchor="middle">Young</text>
<line x1="463.91" y1="1168.2" x2="463.91" y2="1173" stroke="#333333" stroke-width="1.3"/>
<text x="463.51" y="1193" font-size="18.3" fill="#4d4d4d" stroke="#4d4d4d" textLength="53.6" lengthAdjust="spacingAndGlyphs" text-anchor="middle">Mature</text>
<rect x="537" y="779.2" width="237.4" height="389" fill="#fff" stroke="none" stroke-width="1"/>
<g stroke="#ebebeb" fill="none">
<path d="M537 1106.42H774.4" stroke-width="0.7"/>
<path d="M537 1018.07H774.4" stroke-width="0.7"/>
<path d="M537 929.72H774.4" stroke-width="0.7"/>
<path d="M537 841.38H774.4" stroke-width="0.7"/>
<path d="M537 1150.6H774.4" stroke-width="1.3"/>
<path d="M537 1062.25H774.4" stroke-width="1.3"/>
<path d="M537 973.9H774.4" stroke-width="1.3"/>
<path d="M537 885.55H774.4" stroke-width="1.3"/>
<path d="M537 797.2H774.4" stroke-width="1.3"/>
<path d="M601.75 779.2V1168.2" stroke-width="1.3"/>
<path d="M709.65 779.2V1168.2" stroke-width="1.3"/>
</g>
<text x="664.7" y="804.4" font-size="18.3" fill="#000" stroke="#000" textLength="28.6" lengthAdjust="spacingAndGlyphs" text-anchor="middle">****</text>
<g stroke="#0d0d0d" stroke-width="1.4">
<path d="M601.75 1098V1112.6M601.75 1123V1130.6"/>
<rect x="563.95" y="1112.6" width="75.6" height="10.4" fill="#bebebe"/>
<path d="M563.95 1117.2H639.55" stroke-width="2.6"/>
</g>
<circle cx="601.75" cy="1081" r="3.3" fill="#000" stroke="none" stroke-width="1"/>
<circle cx="601.75" cy="1089.5" r="3.3" fill="#000" stroke="none" stroke-width="1"/>
<circle cx="601.75" cy="1091.5" r="3.3" fill="#000" stroke="none" stroke-width="1"/>
<circle cx="601.75" cy="1093.5" r="3.3" fill="#000" stroke="none" stroke-width="1"/>
<circle cx="601.75" cy="1095.5" r="3.3" fill="#000" stroke="none" stroke-width="1"/>
<circle cx="601.75" cy="1097" r="3.3" fill="#000" stroke="none" stroke-width="1"/>
<g stroke="#0d0d0d" stroke-width="1.4">
<path d="M709.65 1121.2V1130.3M709.65 1138.2V1144.9"/>
<rect x="671.85" y="1130.3" width="75.6" height="7.9" fill="#bebebe"/>
<path d="M671.85 1133.9H747.45" stroke-width="2.6"/>
</g>
<rect x="537" y="779.2" width="237.4" height="389" fill="none" stroke="#333333" stroke-width="1.4"/>
<rect x="537" y="745.6" width="237.4" height="33.6" fill="#d9d9d9" stroke="#333333" stroke-width="1.4"/>
<text x="654.1" y="769.7" font-size="19.03" fill="#1a1a1a" stroke="#1a1a1a" textLength="81" lengthAdjust="spacingAndGlyphs" text-anchor="middle">B Spacing</text>
<line x1="601.75" y1="1168.2" x2="601.75" y2="1173" stroke="#333333" stroke-width="1.3"/>
<text x="600.55" y="1193" font-size="18.3" fill="#4d4d4d" stroke="#4d4d4d" textLength="49.6" lengthAdjust="spacingAndGlyphs" text-anchor="middle">Young</text>
<line x1="709.65" y1="1168.2" x2="709.65" y2="1173" stroke="#333333" stroke-width="1.3"/>
<text x="709.25" y="1193" font-size="18.3" fill="#4d4d4d" stroke="#4d4d4d" textLength="53.6" lengthAdjust="spacingAndGlyphs" text-anchor="middle">Mature</text>
<line x1="41.2" y1="1150.6" x2="45.8" y2="1150.6" stroke="#333333" stroke-width="1.3"/>
<text x="36.8" y="1158.2" font-size="18.3" fill="#4d4d4d" stroke="#4d4d4d" textLength="9.8" lengthAdjust="spacingAndGlyphs" text-anchor="end">0</text>
<line x1="41.2" y1="1062.25" x2="45.8" y2="1062.25" stroke="#333333" stroke-width="1.3"/>
<text x="36.8" y="1069.85" font-size="18.3" fill="#4d4d4d" stroke="#4d4d4d" textLength="9.8" lengthAdjust="spacingAndGlyphs" text-anchor="end">1</text>
<line x1="41.2" y1="973.9" x2="45.8" y2="973.9" stroke="#333333" stroke-width="1.3"/>
<text x="36.8" y="981.5" font-size="18.3" fill="#4d4d4d" stroke="#4d4d4d" textLength="9.8" lengthAdjust="spacingAndGlyphs" text-anchor="end">2</text>
<line x1="41.2" y1="885.55" x2="45.8" y2="885.55" stroke="#333333" stroke-width="1.3"/>
<text x="36.8" y="893.15" font-size="18.3" fill="#4d4d4d" stroke="#4d4d4d" textLength="9.8" lengthAdjust="spacingAndGlyphs" text-anchor="end">3</text>
<line x1="41.2" y1="797.2" x2="45.8" y2="797.2" stroke="#333333" stroke-width="1.3"/>
<text x="36.8" y="804.8" font-size="18.3" fill="#4d4d4d" stroke="#4d4d4d" textLength="9.8" lengthAdjust="spacingAndGlyphs" text-anchor="end">4</text>
<text x="21.2" y="973.5" font-size="24.65" fill="#000" stroke="#000" textLength="196.6" lengthAdjust="spacingAndGlyphs" text-anchor="middle" transform="rotate(-90 21.2 973.5)" xml:space="preserve">Coefficient  weight</text>
<text x="410" y="1219.3" font-size="22.88" fill="#000" stroke="#000" textLength="93.3" lengthAdjust="spacingAndGlyphs" text-anchor="middle">Networks</text>
<text x="924.5" y="732.8" font-size="28.08" fill="#000" stroke="#000" textLength="78" lengthAdjust="spacingAndGlyphs">Angles</text>
<rect x="925.3" y="778.8" width="233.4" height="389.2" fill="#fff" stroke="none" stroke-width="1"/>
<g stroke="#ebebeb" fill="none">
<path d="M925.3 1123H1158.7" stroke-width="0.7"/>
<path d="M925.3 1050.4H1158.7" stroke-width="0.7"/>
<path d="M925.3 977.8H1158.7" stroke-width="0.7"/>
<path d="M925.3 905.2H1158.7" stroke-width="0.7"/>
<path d="M925.3 832.6H1158.7" stroke-width="0.7"/>
<path d="M925.3 1159.3H1158.7" stroke-width="1.3"/>
<path d="M925.3 1086.7H1158.7" stroke-width="1.3"/>
<path d="M925.3 1014.1H1158.7" stroke-width="1.3"/>
<path d="M925.3 941.5H1158.7" stroke-width="1.3"/>
<path d="M925.3 868.9H1158.7" stroke-width="1.3"/>
<path d="M925.3 796.3H1158.7" stroke-width="1.3"/>
<path d="M988.95 778.8V1168" stroke-width="1.3"/>
<path d="M1095.05 778.8V1168" stroke-width="1.3"/>
</g>
<text x="1050" y="804.4" font-size="18.3" fill="#000" stroke="#000" textLength="28.6" lengthAdjust="spacingAndGlyphs" text-anchor="middle">****</text>
<g stroke="#0d0d0d" stroke-width="1.4">
<path d="M988.95 1028.2V1043.9M988.95 1054.1V1062.2"/>
<rect x="951.15" y="1043.9" width="75.6" height="10.2" fill="#bebebe"/>
<path d="M951.15 1049.4H1026.75" stroke-width="2.6"/>
</g>
<circle cx="988.95" cy="969.7" r="3.3" fill="#000" stroke="none" stroke-width="1"/>
<circle cx="988.95" cy="985.7" r="3.3" fill="#000" stroke="none" stroke-width="1"/>
<circle cx="988.95" cy="993.6" r="3.3" fill="#000" stroke="none" stroke-width="1"/>
<circle cx="988.95" cy="1000.6" r="3.3" fill="#000" stroke="none" stroke-width="1"/>
<circle cx="988.95" cy="1008" r="3.3" fill="#000" stroke="none" stroke-width="1"/>
<circle cx="988.95" cy="1011" r="3.3" fill="#000" stroke="none" stroke-width="1"/>
<circle cx="988.95" cy="1014" r="3.3" fill="#000" stroke="none" stroke-width="1"/>
<circle cx="988.95" cy="1017" r="3.3" fill="#000" stroke="none" stroke-width="1"/>
<circle cx="988.95" cy="1020" r="3.3" fill="#000" stroke="none" stroke-width="1"/>
<circle cx="988.95" cy="1023" r="3.3" fill="#000" stroke="none" stroke-width="1"/>
<circle cx="988.95" cy="1026" r="3.3" fill="#000" stroke="none" stroke-width="1"/>
<circle cx="988.95" cy="1028" r="3.3" fill="#000" stroke="none" stroke-width="1"/>
<g stroke="#0d0d0d" stroke-width="1.4">
<path d="M1095.05 1090.2V1116.2M1095.05 1137.4V1149.4"/>
<rect x="1057.25" y="1116.2" width="75.6" height="21.2" fill="#bebebe"/>
<path d="M1057.25 1126.6H1132.85" stroke-width="2.6"/>
</g>
<rect x="925.3" y="778.8" width="233.4" height="389.2" fill="none" stroke="#333333" stroke-width="1.4"/>
<rect x="925.3" y="744.8" width="233.4" height="34" fill="#d9d9d9" stroke="#333333" stroke-width="1.4"/>
<text x="1040.4" y="769.3" font-size="19.03" fill="#1a1a1a" stroke="#1a1a1a" textLength="90" lengthAdjust="spacingAndGlyphs" text-anchor="middle">Numerosity</text>
<line x1="988.95" y1="1168" x2="988.95" y2="1172.8" stroke="#333333" stroke-width="1.3"/>
<text x="987.75" y="1193" font-size="18.3" fill="#4d4d4d" stroke="#4d4d4d" textLength="49.6" lengthAdjust="spacingAndGlyphs" text-anchor="middle">Young</text>
<line x1="1095.05" y1="1168" x2="1095.05" y2="1172.8" stroke="#333333" stroke-width="1.3"/>
<text x="1094.65" y="1193" font-size="18.3" fill="#4d4d4d" stroke="#4d4d4d" textLength="53.6" lengthAdjust="spacingAndGlyphs" text-anchor="middle">Mature</text>
<rect x="1168.3" y="778.8" width="233.4" height="389.2" fill="#fff" stroke="none" stroke-width="1"/>
<g stroke="#ebebeb" fill="none">
<path d="M1168.3 1123H1401.7" stroke-width="0.7"/>
<path d="M1168.3 1050.4H1401.7" stroke-width="0.7"/>
<path d="M1168.3 977.8H1401.7" stroke-width="0.7"/>
<path d="M1168.3 905.2H1401.7" stroke-width="0.7"/>
<path d="M1168.3 832.6H1401.7" stroke-width="0.7"/>
<path d="M1168.3 1159.3H1401.7" stroke-width="1.3"/>
<path d="M1168.3 1086.7H1401.7" stroke-width="1.3"/>
<path d="M1168.3 1014.1H1401.7" stroke-width="1.3"/>
<path d="M1168.3 941.5H1401.7" stroke-width="1.3"/>
<path d="M1168.3 868.9H1401.7" stroke-width="1.3"/>
<path d="M1168.3 796.3H1401.7" stroke-width="1.3"/>
<path d="M1231.95 778.8V1168" stroke-width="1.3"/>
<path d="M1338.05 778.8V1168" stroke-width="1.3"/>
</g>
<text x="1293" y="804.4" font-size="18.3" fill="#000" stroke="#000" textLength="28.6" lengthAdjust="spacingAndGlyphs" text-anchor="middle">****</text>
<g stroke="#0d0d0d" stroke-width="1.4">
<path d="M1231.95 1030.4V1066.7M1231.95 1090.8V1101.2"/>
<rect x="1194.15" y="1066.7" width="75.6" height="24.1" fill="#bebebe"/>
<path d="M1194.15 1082.6H1269.75" stroke-width="2.6"/>
</g>
<circle cx="1231.95" cy="970.6" r="3.3" fill="#000" stroke="none" stroke-width="1"/>
<circle cx="1231.95" cy="991.2" r="3.3" fill="#000" stroke="none" stroke-width="1"/>
<circle cx="1231.95" cy="994.5" r="3.3" fill="#000" stroke="none" stroke-width="1"/>
<circle cx="1231.95" cy="998.9" r="3.3" fill="#000" stroke="none" stroke-width="1"/>
<circle cx="1231.95" cy="1003.9" r="3.3" fill="#000" stroke="none" stroke-width="1"/>
<circle cx="1231.95" cy="1015.7" r="3.3" fill="#000" stroke="none" stroke-width="1"/>
<circle cx="1231.95" cy="1019" r="3.3" fill="#000" stroke="none" stroke-width="1"/>
<circle cx="1231.95" cy="1022.4" r="3.3" fill="#000" stroke="none" stroke-width="1"/>
<circle cx="1231.95" cy="1026" r="3.3" fill="#000" stroke="none" stroke-width="1"/>
<g stroke="#0d0d0d" stroke-width="1.4">
<path d="M1338.05 1022.2V1035.1M1338.05 1050.2V1068.7"/>
<rect x="1300.25" y="1035.1" width="75.6" height="15.1" fill="#bebebe"/>
<path d="M1300.25 1040.7H1375.85" stroke-width="2.6"/>
</g>
<rect x="1168.3" y="778.8" width="233.4" height="389.2" fill="none" stroke="#333333" stroke-width="1.4"/>
<rect x="1168.3" y="744.8" width="233.4" height="34" fill="#d9d9d9" stroke="#333333" stroke-width="1.4"/>
<text x="1283.4" y="769.3" font-size="19.03" fill="#1a1a1a" stroke="#1a1a1a" textLength="122.5" lengthAdjust="spacingAndGlyphs" text-anchor="middle">Total Perimeter</text>
<line x1="1231.95" y1="1168" x2="1231.95" y2="1172.8" stroke="#333333" stroke-width="1.3"/>
<text x="1230.75" y="1193" font-size="18.3" fill="#4d4d4d" stroke="#4d4d4d" textLength="49.6" lengthAdjust="spacingAndGlyphs" text-anchor="middle">Young</text>
<line x1="1338.05" y1="1168" x2="1338.05" y2="1172.8" stroke="#333333" stroke-width="1.3"/>
<text x="1337.65" y="1193" font-size="18.3" fill="#4d4d4d" stroke="#4d4d4d" textLength="53.6" lengthAdjust="spacingAndGlyphs" text-anchor="middle">Mature</text>
<rect x="1410.3" y="778.8" width="233.4" height="389.2" fill="#fff" stroke="none" stroke-width="1"/>
<g stroke="#ebebeb" fill="none">
<path d="M1410.3 1123H1643.7" stroke-width="0.7"/>
<path d="M1410.3 1050.4H1643.7" stroke-width="0.7"/>
<path d="M1410.3 977.8H1643.7" stroke-width="0.7"/>
<path d="M1410.3 905.2H1643.7" stroke-width="0.7"/>
<path d="M1410.3 832.6H1643.7" stroke-width="0.7"/>
<path d="M1410.3 1159.3H1643.7" stroke-width="1.3"/>
<path d="M1410.3 1086.7H1643.7" stroke-width="1.3"/>
<path d="M1410.3 1014.1H1643.7" stroke-width="1.3"/>
<path d="M1410.3 941.5H1643.7" stroke-width="1.3"/>
<path d="M1410.3 868.9H1643.7" stroke-width="1.3"/>
<path d="M1410.3 796.3H1643.7" stroke-width="1.3"/>
<path d="M1473.95 778.8V1168" stroke-width="1.3"/>
<path d="M1580.05 778.8V1168" stroke-width="1.3"/>
</g>
<text x="1535" y="804.4" font-size="18.3" fill="#000" stroke="#000" textLength="28.6" lengthAdjust="spacingAndGlyphs" text-anchor="middle">****</text>
<g stroke="#0d0d0d" stroke-width="1.4">
<path d="M1473.95 878.6V903.6M1473.95 919V929.6"/>
<rect x="1436.15" y="903.6" width="75.6" height="15.4" fill="#bebebe"/>
<path d="M1436.15 911.9H1511.75" stroke-width="2.6"/>
</g>
<circle cx="1473.95" cy="852" r="3.3" fill="#000" stroke="none" stroke-width="1"/>
<circle cx="1473.95" cy="863.8" r="3.3" fill="#000" stroke="none" stroke-width="1"/>
<circle cx="1473.95" cy="866.5" r="3.3" fill="#000" stroke="none" stroke-width="1"/>
<circle cx="1473.95" cy="869" r="3.3" fill="#000" stroke="none" stroke-width="1"/>
<circle cx="1473.95" cy="871.2" r="3.3" fill="#000" stroke="none" stroke-width="1"/>
<circle cx="1473.95" cy="874" r="3.3" fill="#000" stroke="none" stroke-width="1"/>
<circle cx="1473.95" cy="876.5" r="3.3" fill="#000" stroke="none" stroke-width="1"/>
<circle cx="1473.95" cy="878.5" r="3.3" fill="#000" stroke="none" stroke-width="1"/>
<g stroke="#0d0d0d" stroke-width="1.4">
<path d="M1580.05 830.2V843.2M1580.05 860.9V883"/>
<rect x="1542.25" y="843.2" width="75.6" height="17.7" fill="#bebebe"/>
<path d="M1542.25 850.3H1617.85" stroke-width="2.6"/>
</g>
<rect x="1410.3" y="778.8" width="233.4" height="389.2" fill="none" stroke="#333333" stroke-width="1.4"/>
<rect x="1410.3" y="744.8" width="233.4" height="34" fill="#d9d9d9" stroke="#333333" stroke-width="1.4"/>
<text x="1525.4" y="769.3" font-size="19.03" fill="#1a1a1a" stroke="#1a1a1a" textLength="147" lengthAdjust="spacingAndGlyphs" text-anchor="middle">Total Surface Area</text>
<line x1="1473.95" y1="1168" x2="1473.95" y2="1172.8" stroke="#333333" stroke-width="1.3"/>
<text x="1472.75" y="1193" font-size="18.3" fill="#4d4d4d" stroke="#4d4d4d" textLength="49.6" lengthAdjust="spacingAndGlyphs" text-anchor="middle">Young</text>
<line x1="1580.05" y1="1168" x2="1580.05" y2="1172.8" stroke="#333333" stroke-width="1.3"/>
<text x="1579.65" y="1193" font-size="18.3" fill="#4d4d4d" stroke="#4d4d4d" textLength="53.6" lengthAdjust="spacingAndGlyphs" text-anchor="middle">Mature</text>
<line x1="920.7" y1="1159.3" x2="925.3" y2="1159.3" stroke="#333333" stroke-width="1.3"/>
<text x="917.2" y="1166.9" font-size="18.3" fill="#4d4d4d" stroke="#4d4d4d" textLength="9.8" lengthAdjust="spacingAndGlyphs" text-anchor="end">0</text>
<line x1="920.7" y1="1086.7" x2="925.3" y2="1086.7" stroke="#333333" stroke-width="1.3"/>
<text x="917.2" y="1094.3" font-size="18.3" fill="#4d4d4d" stroke="#4d4d4d" textLength="19.8" lengthAdjust="spacingAndGlyphs" text-anchor="end">10</text>
<line x1="920.7" y1="1014.1" x2="925.3" y2="1014.1" stroke="#333333" stroke-width="1.3"/>
<text x="917.2" y="1021.7" font-size="18.3" fill="#4d4d4d" stroke="#4d4d4d" textLength="19.8" lengthAdjust="spacingAndGlyphs" text-anchor="end">20</text>
<line x1="920.7" y1="941.5" x2="925.3" y2="941.5" stroke="#333333" stroke-width="1.3"/>
<text x="917.2" y="949.1" font-size="18.3" fill="#4d4d4d" stroke="#4d4d4d" textLength="19.8" lengthAdjust="spacingAndGlyphs" text-anchor="end">30</text>
<line x1="920.7" y1="868.9" x2="925.3" y2="868.9" stroke="#333333" stroke-width="1.3"/>
<text x="917.2" y="876.5" font-size="18.3" fill="#4d4d4d" stroke="#4d4d4d" textLength="19.8" lengthAdjust="spacingAndGlyphs" text-anchor="end">40</text>
<line x1="920.7" y1="796.3" x2="925.3" y2="796.3" stroke="#333333" stroke-width="1.3"/>
<text x="917.2" y="803.9" font-size="18.3" fill="#4d4d4d" stroke="#4d4d4d" textLength="19.8" lengthAdjust="spacingAndGlyphs" text-anchor="end">50</text>
<text x="890.9" y="971.85" font-size="23.92" fill="#000" stroke="#000" textLength="251.5" lengthAdjust="spacingAndGlyphs" text-anchor="middle" transform="rotate(-90 890.9 971.85)">Angle with discr. vector</text>
<text x="1284.6" y="1219.3" font-size="22.88" fill="#000" stroke="#000" textLength="93.3" lengthAdjust="spacingAndGlyphs" text-anchor="middle">Networks</text>
<text x="0.3" y="1392.6" font-size="42.22" fill="#000" stroke="#000" textLength="27" lengthAdjust="spacingAndGlyphs" font-weight="bold">C</text>
<rect x="413.7" y="1403.37" width="62.8" height="335.43" fill="#000" stroke="#262626" stroke-width="1.2" stroke-linejoin="round"/>
<rect x="491" y="1408.42" width="62.8" height="330.38" fill="#d9d9d9" stroke="#262626" stroke-width="1.2" stroke-linejoin="round"/>
<rect x="647.3" y="1546.13" width="62.8" height="192.67" fill="#000" stroke="#262626" stroke-width="1.2" stroke-linejoin="round"/>
<rect x="724.6" y="1486.56" width="62.8" height="252.24" fill="#d9d9d9" stroke="#262626" stroke-width="1.2" stroke-linejoin="round"/>
<rect x="880.9" y="1738.8" width="62.8" height="39.51" fill="#000" stroke="#262626" stroke-width="1.2" stroke-linejoin="round"/>
<rect x="958.2" y="1738.8" width="62.8" height="95.96" fill="#d9d9d9" stroke="#262626" stroke-width="1.2" stroke-linejoin="round"/>
<rect x="1114.5" y="1738.8" width="62.8" height="64.47" fill="#000" stroke="#262626" stroke-width="1.2" stroke-linejoin="round"/>
<rect x="1191.8" y="1738.8" width="62.8" height="58.23" fill="#d9d9d9" stroke="#262626" stroke-width="1.2" stroke-linejoin="round"/>
<line x1="352.3" y1="1381.38" x2="352.3" y2="1858.54" stroke="#5a5a5a" stroke-width="1.9"/>
<line x1="352.3" y1="1857.64" x2="1315.4" y2="1857.64" stroke="#5a5a5a" stroke-width="1.9"/>
<line x1="352.3" y1="1738.8" x2="1315.4" y2="1738.8" stroke="#4d4d4d" stroke-width="1.3"/>
<line x1="352.3" y1="1857.64" x2="361.9" y2="1857.64" stroke="#5a5a5a" stroke-width="1.9"/>
<text x="341" y="1867.84" font-size="23.92" fill="#262626" stroke="#262626" textLength="39.08" lengthAdjust="spacingAndGlyphs" text-anchor="end">-0.4</text>
<line x1="352.3" y1="1798.22" x2="361.9" y2="1798.22" stroke="#5a5a5a" stroke-width="1.9"/>
<text x="341" y="1808.42" font-size="23.92" fill="#262626" stroke="#262626" textLength="39.08" lengthAdjust="spacingAndGlyphs" text-anchor="end">-0.2</text>
<line x1="352.3" y1="1738.8" x2="361.9" y2="1738.8" stroke="#5a5a5a" stroke-width="1.9"/>
<text x="341" y="1749" font-size="23.92" fill="#262626" stroke="#262626" textLength="12.61" lengthAdjust="spacingAndGlyphs" text-anchor="end">0</text>
<line x1="352.3" y1="1679.38" x2="361.9" y2="1679.38" stroke="#5a5a5a" stroke-width="1.9"/>
<text x="341" y="1689.58" font-size="23.92" fill="#262626" stroke="#262626" textLength="31.53" lengthAdjust="spacingAndGlyphs" text-anchor="end">0.2</text>
<line x1="352.3" y1="1619.96" x2="361.9" y2="1619.96" stroke="#5a5a5a" stroke-width="1.9"/>
<text x="341" y="1630.16" font-size="23.92" fill="#262626" stroke="#262626" textLength="31.53" lengthAdjust="spacingAndGlyphs" text-anchor="end">0.4</text>
<line x1="352.3" y1="1560.54" x2="361.9" y2="1560.54" stroke="#5a5a5a" stroke-width="1.9"/>
<text x="341" y="1570.74" font-size="23.92" fill="#262626" stroke="#262626" textLength="31.53" lengthAdjust="spacingAndGlyphs" text-anchor="end">0.6</text>
<line x1="352.3" y1="1501.12" x2="361.9" y2="1501.12" stroke="#5a5a5a" stroke-width="1.9"/>
<text x="341" y="1511.32" font-size="23.92" fill="#262626" stroke="#262626" textLength="31.53" lengthAdjust="spacingAndGlyphs" text-anchor="end">0.8</text>
<line x1="352.3" y1="1441.7" x2="361.9" y2="1441.7" stroke="#5a5a5a" stroke-width="1.9"/>
<text x="341" y="1451.9" font-size="23.92" fill="#262626" stroke="#262626" textLength="12.61" lengthAdjust="spacingAndGlyphs" text-anchor="end">1</text>
<line x1="352.3" y1="1382.28" x2="361.9" y2="1382.28" stroke="#5a5a5a" stroke-width="1.9"/>
<text x="341" y="1392.48" font-size="23.92" fill="#262626" stroke="#262626" textLength="31.53" lengthAdjust="spacingAndGlyphs" text-anchor="end">1.2</text>
<line x1="483.6" y1="1857.64" x2="483.6" y2="1848.04" stroke="#5a5a5a" stroke-width="1.9"/>
<line x1="717.2" y1="1857.64" x2="717.2" y2="1848.04" stroke="#5a5a5a" stroke-width="1.9"/>
<line x1="950.8" y1="1857.64" x2="950.8" y2="1848.04" stroke="#5a5a5a" stroke-width="1.9"/>
<line x1="1184.4" y1="1857.64" x2="1184.4" y2="1848.04" stroke="#5a5a5a" stroke-width="1.9"/>
<text transform="translate(440.2 1891.7) scale(0.9586 1)" font-size="23.92" fill="#262626" stroke="#262626">Ang<tspan x="46.11" y="12.1" font-size="19.55">Num</tspan></text>
<text transform="translate(688.7 1891.7) scale(0.9700 1)" font-size="23.92" fill="#262626" stroke="#262626">B<tspan x="16.49" y="12.1" font-size="19.55">Num</tspan></text>
<text transform="translate(922.6 1891.7) scale(0.9700 1)" font-size="23.92" fill="#262626" stroke="#262626">B<tspan x="17.53" y="12.1" font-size="19.55">Size</tspan></text>
<text transform="translate(1139.4 1891.7) scale(0.9700 1)" font-size="23.92" fill="#262626" stroke="#262626">B<tspan x="17.11" y="12.1" font-size="19.55">Spacing</tspan></text>
<text x="288" y="1619.2" font-size="32.03" fill="#262626" stroke="#262626" textLength="341.8" lengthAdjust="spacingAndGlyphs" text-anchor="middle" transform="rotate(-90 288 1619.2)">Developmental Change</text>
<rect x="965.8" y="1403.7" width="367.3" height="67.4" fill="#fff" stroke="#4d4d4d" stroke-width="1.3"/>
<rect x="971.2" y="1410.5" width="57.2" height="23.1" fill="#000" stroke="#262626" stroke-width="1.2"/>
<rect x="971.2" y="1441.4" width="57.2" height="23.2" fill="#d9d9d9" stroke="#262626" stroke-width="1.2"/>
<text x="1033.2" y="1431.9" font-size="23.71" fill="#000" stroke="#000" textLength="265.8" lengthAdjust="spacingAndGlyphs">Humans (Adults vs. 4-y.o.)</text>
<text x="1033.2" y="1463.2" font-size="23.71" fill="#000" stroke="#000" textLength="292.8" lengthAdjust="spacingAndGlyphs">Networks (Mature vs. Young)</text>
</svg>
</body></html>
